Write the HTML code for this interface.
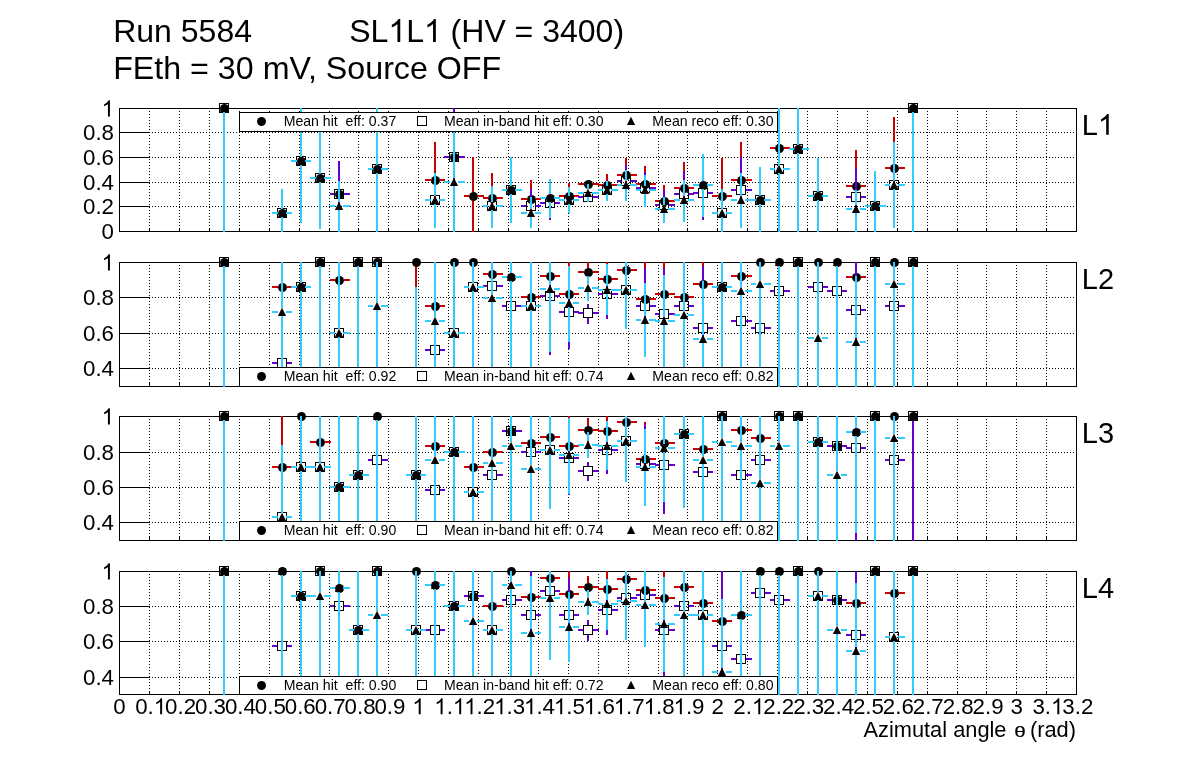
<!DOCTYPE html>
<html><head><meta charset="utf-8"><title>Efficiency</title>
<style>html,body{margin:0;padding:0;background:#fff}svg{display:block}</style>
</head><body>
<svg width="1196" height="772" viewBox="0 0 1196 772" font-family="Liberation Sans, sans-serif" fill="#000" style="will-change:transform">
<rect width="1196" height="772" fill="#fff"/>
<text x="113.2" y="42" font-size="32">Run 5584</text>
<text x="349.2" y="42" font-size="32" xml:space="preserve">SL</text>
<path transform="translate(388.34,42) scale(0.015625,-0.015625)" d="M763 0h-180v1147q-65 -62 -170.5 -124t-189.5 -93v174q151 71 264 172t160 196h116v-1472z"/>
<text x="406.14" y="42" font-size="32" xml:space="preserve">L</text>
<path transform="translate(423.93,42) scale(0.015625,-0.015625)" d="M763 0h-180v1147q-65 -62 -170.5 -124t-189.5 -93v174q151 71 264 172t160 196h116v-1472z"/>
<text x="441.73" y="42" font-size="32" xml:space="preserve"> (HV = 3400)</text>
<text x="113.2" y="78.8" font-size="32" textLength="388" lengthAdjust="spacingAndGlyphs">FEth = 30 mV, Source OFF</text>
<g shape-rendering="crispEdges">
<line x1="149.5" y1="110.5" x2="149.5" y2="227.5" stroke="#000" stroke-width="1" stroke-dasharray="1,2"/>
<line x1="149.5" y1="227.5" x2="149.5" y2="231.5" stroke="#000" stroke-width="1"/>
<line x1="179.5" y1="110.5" x2="179.5" y2="227.5" stroke="#000" stroke-width="1" stroke-dasharray="1,2"/>
<line x1="179.5" y1="227.5" x2="179.5" y2="231.5" stroke="#000" stroke-width="1"/>
<line x1="209.5" y1="110.5" x2="209.5" y2="227.5" stroke="#000" stroke-width="1" stroke-dasharray="1,2"/>
<line x1="209.5" y1="227.5" x2="209.5" y2="231.5" stroke="#000" stroke-width="1"/>
<line x1="239.5" y1="110.5" x2="239.5" y2="227.5" stroke="#000" stroke-width="1" stroke-dasharray="1,2"/>
<line x1="239.5" y1="227.5" x2="239.5" y2="231.5" stroke="#000" stroke-width="1"/>
<line x1="269.5" y1="110.5" x2="269.5" y2="227.5" stroke="#000" stroke-width="1" stroke-dasharray="1,2"/>
<line x1="269.5" y1="227.5" x2="269.5" y2="231.5" stroke="#000" stroke-width="1"/>
<line x1="299.5" y1="110.5" x2="299.5" y2="227.5" stroke="#000" stroke-width="1" stroke-dasharray="1,2"/>
<line x1="299.5" y1="227.5" x2="299.5" y2="231.5" stroke="#000" stroke-width="1"/>
<line x1="329.5" y1="110.5" x2="329.5" y2="227.5" stroke="#000" stroke-width="1" stroke-dasharray="1,2"/>
<line x1="329.5" y1="227.5" x2="329.5" y2="231.5" stroke="#000" stroke-width="1"/>
<line x1="358.5" y1="110.5" x2="358.5" y2="227.5" stroke="#000" stroke-width="1" stroke-dasharray="1,2"/>
<line x1="358.5" y1="227.5" x2="358.5" y2="231.5" stroke="#000" stroke-width="1"/>
<line x1="388.5" y1="110.5" x2="388.5" y2="227.5" stroke="#000" stroke-width="1" stroke-dasharray="1,2"/>
<line x1="388.5" y1="227.5" x2="388.5" y2="231.5" stroke="#000" stroke-width="1"/>
<line x1="418.5" y1="110.5" x2="418.5" y2="227.5" stroke="#000" stroke-width="1" stroke-dasharray="1,2"/>
<line x1="418.5" y1="227.5" x2="418.5" y2="231.5" stroke="#000" stroke-width="1"/>
<line x1="448.5" y1="110.5" x2="448.5" y2="227.5" stroke="#000" stroke-width="1" stroke-dasharray="1,2"/>
<line x1="448.5" y1="227.5" x2="448.5" y2="231.5" stroke="#000" stroke-width="1"/>
<line x1="478.5" y1="110.5" x2="478.5" y2="227.5" stroke="#000" stroke-width="1" stroke-dasharray="1,2"/>
<line x1="478.5" y1="227.5" x2="478.5" y2="231.5" stroke="#000" stroke-width="1"/>
<line x1="508.5" y1="110.5" x2="508.5" y2="227.5" stroke="#000" stroke-width="1" stroke-dasharray="1,2"/>
<line x1="508.5" y1="227.5" x2="508.5" y2="231.5" stroke="#000" stroke-width="1"/>
<line x1="538.5" y1="110.5" x2="538.5" y2="227.5" stroke="#000" stroke-width="1" stroke-dasharray="1,2"/>
<line x1="538.5" y1="227.5" x2="538.5" y2="231.5" stroke="#000" stroke-width="1"/>
<line x1="568.5" y1="110.5" x2="568.5" y2="227.5" stroke="#000" stroke-width="1" stroke-dasharray="1,2"/>
<line x1="568.5" y1="227.5" x2="568.5" y2="231.5" stroke="#000" stroke-width="1"/>
<line x1="598.5" y1="110.5" x2="598.5" y2="227.5" stroke="#000" stroke-width="1" stroke-dasharray="1,2"/>
<line x1="598.5" y1="227.5" x2="598.5" y2="231.5" stroke="#000" stroke-width="1"/>
<line x1="628.5" y1="110.5" x2="628.5" y2="227.5" stroke="#000" stroke-width="1" stroke-dasharray="1,2"/>
<line x1="628.5" y1="227.5" x2="628.5" y2="231.5" stroke="#000" stroke-width="1"/>
<line x1="658.5" y1="110.5" x2="658.5" y2="227.5" stroke="#000" stroke-width="1" stroke-dasharray="1,2"/>
<line x1="658.5" y1="227.5" x2="658.5" y2="231.5" stroke="#000" stroke-width="1"/>
<line x1="687.5" y1="110.5" x2="687.5" y2="227.5" stroke="#000" stroke-width="1" stroke-dasharray="1,2"/>
<line x1="687.5" y1="227.5" x2="687.5" y2="231.5" stroke="#000" stroke-width="1"/>
<line x1="717.5" y1="110.5" x2="717.5" y2="227.5" stroke="#000" stroke-width="1" stroke-dasharray="1,2"/>
<line x1="717.5" y1="227.5" x2="717.5" y2="231.5" stroke="#000" stroke-width="1"/>
<line x1="747.5" y1="110.5" x2="747.5" y2="227.5" stroke="#000" stroke-width="1" stroke-dasharray="1,2"/>
<line x1="747.5" y1="227.5" x2="747.5" y2="231.5" stroke="#000" stroke-width="1"/>
<line x1="777.5" y1="110.5" x2="777.5" y2="227.5" stroke="#000" stroke-width="1" stroke-dasharray="1,2"/>
<line x1="777.5" y1="227.5" x2="777.5" y2="231.5" stroke="#000" stroke-width="1"/>
<line x1="807.5" y1="110.5" x2="807.5" y2="227.5" stroke="#000" stroke-width="1" stroke-dasharray="1,2"/>
<line x1="807.5" y1="227.5" x2="807.5" y2="231.5" stroke="#000" stroke-width="1"/>
<line x1="837.5" y1="110.5" x2="837.5" y2="227.5" stroke="#000" stroke-width="1" stroke-dasharray="1,2"/>
<line x1="837.5" y1="227.5" x2="837.5" y2="231.5" stroke="#000" stroke-width="1"/>
<line x1="867.5" y1="110.5" x2="867.5" y2="227.5" stroke="#000" stroke-width="1" stroke-dasharray="1,2"/>
<line x1="867.5" y1="227.5" x2="867.5" y2="231.5" stroke="#000" stroke-width="1"/>
<line x1="897.5" y1="110.5" x2="897.5" y2="227.5" stroke="#000" stroke-width="1" stroke-dasharray="1,2"/>
<line x1="897.5" y1="227.5" x2="897.5" y2="231.5" stroke="#000" stroke-width="1"/>
<line x1="927.5" y1="110.5" x2="927.5" y2="227.5" stroke="#000" stroke-width="1" stroke-dasharray="1,2"/>
<line x1="927.5" y1="227.5" x2="927.5" y2="231.5" stroke="#000" stroke-width="1"/>
<line x1="957.5" y1="110.5" x2="957.5" y2="227.5" stroke="#000" stroke-width="1" stroke-dasharray="1,2"/>
<line x1="957.5" y1="227.5" x2="957.5" y2="231.5" stroke="#000" stroke-width="1"/>
<line x1="986.5" y1="110.5" x2="986.5" y2="227.5" stroke="#000" stroke-width="1" stroke-dasharray="1,2"/>
<line x1="986.5" y1="227.5" x2="986.5" y2="231.5" stroke="#000" stroke-width="1"/>
<line x1="1016.5" y1="110.5" x2="1016.5" y2="227.5" stroke="#000" stroke-width="1" stroke-dasharray="1,2"/>
<line x1="1016.5" y1="227.5" x2="1016.5" y2="231.5" stroke="#000" stroke-width="1"/>
<line x1="1046.5" y1="110.5" x2="1046.5" y2="227.5" stroke="#000" stroke-width="1" stroke-dasharray="1,2"/>
<line x1="1046.5" y1="227.5" x2="1046.5" y2="231.5" stroke="#000" stroke-width="1"/>
<line x1="151.5" y1="132.5" x2="1075.5" y2="132.5" stroke="#000" stroke-width="1" stroke-dasharray="1,2"/>
<line x1="119.5" y1="132.5" x2="149.5" y2="132.5" stroke="#000" stroke-width="1"/>
<line x1="151.5" y1="157.5" x2="1075.5" y2="157.5" stroke="#000" stroke-width="1" stroke-dasharray="1,2"/>
<line x1="119.5" y1="157.5" x2="149.5" y2="157.5" stroke="#000" stroke-width="1"/>
<line x1="151.5" y1="182.5" x2="1075.5" y2="182.5" stroke="#000" stroke-width="1" stroke-dasharray="1,2"/>
<line x1="119.5" y1="182.5" x2="149.5" y2="182.5" stroke="#000" stroke-width="1"/>
<line x1="151.5" y1="206.5" x2="1075.5" y2="206.5" stroke="#000" stroke-width="1" stroke-dasharray="1,2"/>
<line x1="119.5" y1="206.5" x2="149.5" y2="206.5" stroke="#000" stroke-width="1"/>
<rect x="119.5" y="108.5" width="957.0" height="123.0" fill="none" stroke="#000" stroke-width="1"/>
</g>
<path transform="translate(101.6,116.4) scale(0.010889,-0.010889)" d="M763 0h-180v1147q-65 -62 -170.5 -124t-189.5 -93v174q151 71 264 172t160 196h116v-1472z"/>
<text x="83" y="140.4" font-size="22.3" xml:space="preserve">0.8</text>
<text x="83" y="165.4" font-size="22.3" xml:space="preserve">0.6</text>
<text x="83" y="190.4" font-size="22.3" xml:space="preserve">0.4</text>
<text x="83" y="214.4" font-size="22.3" xml:space="preserve">0.2</text>
<text x="101.6" y="239.4" font-size="22.3" xml:space="preserve">0</text>
<clipPath id="clip0"><rect x="119.5" y="108.0" width="957.0" height="124.0"/></clipPath>
<g clip-path="url(#clip0)" shape-rendering="crispEdges">
<line x1="272" y1="213" x2="278" y2="213" stroke="#cc0000" stroke-width="2.0"/>
<line x1="287" y1="213" x2="292" y2="213" stroke="#cc0000" stroke-width="2.0"/>
<line x1="291" y1="161" x2="297" y2="161" stroke="#cc0000" stroke-width="2.0"/>
<line x1="306" y1="161" x2="311" y2="161" stroke="#cc0000" stroke-width="2.0"/>
<line x1="310" y1="178" x2="316" y2="178" stroke="#cc0000" stroke-width="2.0"/>
<line x1="325" y1="178" x2="331" y2="178" stroke="#cc0000" stroke-width="2.0"/>
<line x1="330" y1="194" x2="335" y2="194" stroke="#cc0000" stroke-width="2.0"/>
<line x1="344" y1="194" x2="350" y2="194" stroke="#cc0000" stroke-width="2.0"/>
<line x1="368" y1="169" x2="373" y2="169" stroke="#cc0000" stroke-width="2.0"/>
<line x1="382" y1="169" x2="388" y2="169" stroke="#cc0000" stroke-width="2.0"/>
<line x1="425" y1="180" x2="431" y2="180" stroke="#cc0000" stroke-width="2.0"/>
<line x1="440" y1="180" x2="445" y2="180" stroke="#cc0000" stroke-width="2.0"/>
<line x1="435" y1="142.3" x2="435" y2="176" stroke="#cc0000" stroke-width="2.0"/>
<line x1="435" y1="185" x2="435" y2="217" stroke="#cc0000" stroke-width="2.0"/>
<line x1="444" y1="157" x2="450" y2="157" stroke="#cc0000" stroke-width="2.0"/>
<line x1="459" y1="157" x2="465" y2="157" stroke="#cc0000" stroke-width="2.0"/>
<line x1="464" y1="196" x2="469" y2="196" stroke="#cc0000" stroke-width="2.0"/>
<line x1="478" y1="196" x2="484" y2="196" stroke="#cc0000" stroke-width="2.0"/>
<line x1="473" y1="157.3" x2="473" y2="192" stroke="#cc0000" stroke-width="2.0"/>
<line x1="473" y1="201" x2="473" y2="232.5" stroke="#cc0000" stroke-width="2.0"/>
<line x1="483" y1="198" x2="488" y2="198" stroke="#cc0000" stroke-width="2.0"/>
<line x1="497" y1="198" x2="503" y2="198" stroke="#cc0000" stroke-width="2.0"/>
<line x1="492" y1="173.2" x2="492" y2="194" stroke="#cc0000" stroke-width="2.0"/>
<line x1="492" y1="203" x2="492" y2="222" stroke="#cc0000" stroke-width="2.0"/>
<line x1="502" y1="190" x2="507" y2="190" stroke="#cc0000" stroke-width="2.0"/>
<line x1="516" y1="190" x2="522" y2="190" stroke="#cc0000" stroke-width="2.0"/>
<line x1="521" y1="199" x2="527" y2="199" stroke="#cc0000" stroke-width="2.0"/>
<line x1="536" y1="199" x2="541" y2="199" stroke="#cc0000" stroke-width="2.0"/>
<line x1="531" y1="179.9" x2="531" y2="195" stroke="#cc0000" stroke-width="2.0"/>
<line x1="531" y1="204" x2="531" y2="219" stroke="#cc0000" stroke-width="2.0"/>
<line x1="540" y1="198" x2="546" y2="198" stroke="#cc0000" stroke-width="2.0"/>
<line x1="555" y1="198" x2="560" y2="198" stroke="#cc0000" stroke-width="2.0"/>
<line x1="559" y1="196" x2="565" y2="196" stroke="#cc0000" stroke-width="2.0"/>
<line x1="574" y1="196" x2="579" y2="196" stroke="#cc0000" stroke-width="2.0"/>
<line x1="569" y1="183.3" x2="569" y2="192" stroke="#cc0000" stroke-width="2.0"/>
<line x1="569" y1="201" x2="569" y2="208" stroke="#cc0000" stroke-width="2.0"/>
<line x1="578" y1="184" x2="584" y2="184" stroke="#cc0000" stroke-width="2.0"/>
<line x1="593" y1="184" x2="599" y2="184" stroke="#cc0000" stroke-width="2.0"/>
<line x1="598" y1="185" x2="603" y2="185" stroke="#cc0000" stroke-width="2.0"/>
<line x1="612" y1="185" x2="618" y2="185" stroke="#cc0000" stroke-width="2.0"/>
<line x1="607" y1="174.1" x2="607" y2="181" stroke="#cc0000" stroke-width="2.0"/>
<line x1="607" y1="190" x2="607" y2="195" stroke="#cc0000" stroke-width="2.0"/>
<line x1="617" y1="175" x2="622" y2="175" stroke="#cc0000" stroke-width="2.0"/>
<line x1="631" y1="175" x2="637" y2="175" stroke="#cc0000" stroke-width="2.0"/>
<line x1="626" y1="157.8" x2="626" y2="171" stroke="#cc0000" stroke-width="2.0"/>
<line x1="626" y1="180" x2="626" y2="192" stroke="#cc0000" stroke-width="2.0"/>
<line x1="636" y1="184" x2="641" y2="184" stroke="#cc0000" stroke-width="2.0"/>
<line x1="650" y1="184" x2="656" y2="184" stroke="#cc0000" stroke-width="2.0"/>
<line x1="645" y1="166.2" x2="645" y2="180" stroke="#cc0000" stroke-width="2.0"/>
<line x1="645" y1="189" x2="645" y2="201" stroke="#cc0000" stroke-width="2.0"/>
<line x1="655" y1="201" x2="660" y2="201" stroke="#cc0000" stroke-width="2.0"/>
<line x1="669" y1="201" x2="675" y2="201" stroke="#cc0000" stroke-width="2.0"/>
<line x1="664" y1="184.9" x2="664" y2="197" stroke="#cc0000" stroke-width="2.0"/>
<line x1="664" y1="206" x2="664" y2="217" stroke="#cc0000" stroke-width="2.0"/>
<line x1="674" y1="188" x2="680" y2="188" stroke="#cc0000" stroke-width="2.0"/>
<line x1="689" y1="188" x2="694" y2="188" stroke="#cc0000" stroke-width="2.0"/>
<line x1="684" y1="161.9" x2="684" y2="184" stroke="#cc0000" stroke-width="2.0"/>
<line x1="684" y1="193" x2="684" y2="214" stroke="#cc0000" stroke-width="2.0"/>
<line x1="693" y1="185" x2="699" y2="185" stroke="#cc0000" stroke-width="2.0"/>
<line x1="708" y1="185" x2="713" y2="185" stroke="#cc0000" stroke-width="2.0"/>
<line x1="712" y1="196" x2="718" y2="196" stroke="#cc0000" stroke-width="2.0"/>
<line x1="727" y1="196" x2="732" y2="196" stroke="#cc0000" stroke-width="2.0"/>
<line x1="722" y1="157.8" x2="722" y2="192" stroke="#cc0000" stroke-width="2.0"/>
<line x1="722" y1="201" x2="722" y2="207" stroke="#cc0000" stroke-width="2.0"/>
<line x1="731" y1="180" x2="737" y2="180" stroke="#cc0000" stroke-width="2.0"/>
<line x1="746" y1="180" x2="752" y2="180" stroke="#cc0000" stroke-width="2.0"/>
<line x1="741" y1="142.3" x2="741" y2="176" stroke="#cc0000" stroke-width="2.0"/>
<line x1="741" y1="185" x2="741" y2="217" stroke="#cc0000" stroke-width="2.0"/>
<line x1="751" y1="200" x2="756" y2="200" stroke="#cc0000" stroke-width="2.0"/>
<line x1="765" y1="200" x2="771" y2="200" stroke="#cc0000" stroke-width="2.0"/>
<line x1="770" y1="148" x2="775" y2="148" stroke="#cc0000" stroke-width="2.0"/>
<line x1="784" y1="148" x2="790" y2="148" stroke="#cc0000" stroke-width="2.0"/>
<line x1="789" y1="149" x2="794" y2="149" stroke="#cc0000" stroke-width="2.0"/>
<line x1="803" y1="149" x2="809" y2="149" stroke="#cc0000" stroke-width="2.0"/>
<line x1="808" y1="196" x2="814" y2="196" stroke="#cc0000" stroke-width="2.0"/>
<line x1="823" y1="196" x2="828" y2="196" stroke="#cc0000" stroke-width="2.0"/>
<line x1="846" y1="186" x2="852" y2="186" stroke="#cc0000" stroke-width="2.0"/>
<line x1="861" y1="186" x2="866" y2="186" stroke="#cc0000" stroke-width="2.0"/>
<line x1="856" y1="150.2" x2="856" y2="182" stroke="#cc0000" stroke-width="2.0"/>
<line x1="856" y1="191" x2="856" y2="221" stroke="#cc0000" stroke-width="2.0"/>
<line x1="865" y1="206" x2="871" y2="206" stroke="#cc0000" stroke-width="2.0"/>
<line x1="880" y1="206" x2="886" y2="206" stroke="#cc0000" stroke-width="2.0"/>
<line x1="885" y1="168" x2="890" y2="168" stroke="#cc0000" stroke-width="2.0"/>
<line x1="899" y1="168" x2="905" y2="168" stroke="#cc0000" stroke-width="2.0"/>
<line x1="894" y1="117.2" x2="894" y2="164" stroke="#cc0000" stroke-width="2.0"/>
<line x1="894" y1="173" x2="894" y2="220" stroke="#cc0000" stroke-width="2.0"/>
</g>
<circle cx="224.5" cy="108.5" r="4.45" fill="#000"/>
<circle cx="282.5" cy="213.5" r="4.45" fill="#000"/>
<circle cx="301.5" cy="161.5" r="4.45" fill="#000"/>
<circle cx="320.5" cy="178.5" r="4.45" fill="#000"/>
<circle cx="339.5" cy="194.5" r="4.45" fill="#000"/>
<circle cx="377.5" cy="169.5" r="4.45" fill="#000"/>
<circle cx="435.5" cy="180.5" r="4.45" fill="#000"/>
<circle cx="454.5" cy="157.5" r="4.45" fill="#000"/>
<circle cx="473.5" cy="196.5" r="4.45" fill="#000"/>
<circle cx="492.5" cy="198.5" r="4.45" fill="#000"/>
<circle cx="511.5" cy="190.5" r="4.45" fill="#000"/>
<circle cx="531.5" cy="199.5" r="4.45" fill="#000"/>
<circle cx="550.5" cy="198.5" r="4.45" fill="#000"/>
<circle cx="569.5" cy="196.5" r="4.45" fill="#000"/>
<circle cx="588.5" cy="184.5" r="4.45" fill="#000"/>
<circle cx="607.5" cy="185.5" r="4.45" fill="#000"/>
<circle cx="626.5" cy="175.5" r="4.45" fill="#000"/>
<circle cx="645.5" cy="184.5" r="4.45" fill="#000"/>
<circle cx="664.5" cy="201.5" r="4.45" fill="#000"/>
<circle cx="684.5" cy="188.5" r="4.45" fill="#000"/>
<circle cx="703.5" cy="185.5" r="4.45" fill="#000"/>
<circle cx="722.5" cy="196.5" r="4.45" fill="#000"/>
<circle cx="741.5" cy="180.5" r="4.45" fill="#000"/>
<circle cx="760.5" cy="200.5" r="4.45" fill="#000"/>
<circle cx="779.5" cy="148.5" r="4.45" fill="#000"/>
<circle cx="798.5" cy="149.5" r="4.45" fill="#000"/>
<circle cx="818.5" cy="196.5" r="4.45" fill="#000"/>
<circle cx="856.5" cy="186.5" r="4.45" fill="#000"/>
<circle cx="875.5" cy="206.5" r="4.45" fill="#000"/>
<circle cx="894.5" cy="168.5" r="4.45" fill="#000"/>
<circle cx="913.5" cy="108.5" r="4.45" fill="#000"/>
<g clip-path="url(#clip0)" shape-rendering="crispEdges">
<line x1="272" y1="213" x2="277" y2="213" stroke="#6600cc" stroke-width="2.0"/>
<line x1="287" y1="213" x2="292" y2="213" stroke="#6600cc" stroke-width="2.0"/>
<line x1="291" y1="161" x2="296" y2="161" stroke="#6600cc" stroke-width="2.0"/>
<line x1="306" y1="161" x2="311" y2="161" stroke="#6600cc" stroke-width="2.0"/>
<line x1="310" y1="178" x2="315" y2="178" stroke="#6600cc" stroke-width="2.0"/>
<line x1="325" y1="178" x2="331" y2="178" stroke="#6600cc" stroke-width="2.0"/>
<line x1="330" y1="194" x2="334" y2="194" stroke="#6600cc" stroke-width="2.0"/>
<line x1="344" y1="194" x2="350" y2="194" stroke="#6600cc" stroke-width="2.0"/>
<line x1="339" y1="161" x2="339" y2="189" stroke="#6600cc" stroke-width="2.0"/>
<line x1="339" y1="199" x2="339" y2="227" stroke="#6600cc" stroke-width="2.0"/>
<line x1="368" y1="169" x2="372" y2="169" stroke="#6600cc" stroke-width="2.0"/>
<line x1="382" y1="169" x2="388" y2="169" stroke="#6600cc" stroke-width="2.0"/>
<line x1="425" y1="200" x2="430" y2="200" stroke="#6600cc" stroke-width="2.0"/>
<line x1="440" y1="200" x2="445" y2="200" stroke="#6600cc" stroke-width="2.0"/>
<line x1="444" y1="157" x2="449" y2="157" stroke="#6600cc" stroke-width="2.0"/>
<line x1="459" y1="157" x2="465" y2="157" stroke="#6600cc" stroke-width="2.0"/>
<line x1="454" y1="108" x2="454" y2="152" stroke="#6600cc" stroke-width="2.0"/>
<line x1="454" y1="162" x2="454" y2="205" stroke="#6600cc" stroke-width="2.0"/>
<line x1="483" y1="206" x2="487" y2="206" stroke="#6600cc" stroke-width="2.0"/>
<line x1="497" y1="206" x2="503" y2="206" stroke="#6600cc" stroke-width="2.0"/>
<line x1="502" y1="190" x2="506" y2="190" stroke="#6600cc" stroke-width="2.0"/>
<line x1="516" y1="190" x2="522" y2="190" stroke="#6600cc" stroke-width="2.0"/>
<line x1="521" y1="206" x2="526" y2="206" stroke="#6600cc" stroke-width="2.0"/>
<line x1="536" y1="206" x2="541" y2="206" stroke="#6600cc" stroke-width="2.0"/>
<line x1="531" y1="189" x2="531" y2="201" stroke="#6600cc" stroke-width="2.0"/>
<line x1="531" y1="211" x2="531" y2="222" stroke="#6600cc" stroke-width="2.0"/>
<line x1="540" y1="203" x2="545" y2="203" stroke="#6600cc" stroke-width="2.0"/>
<line x1="555" y1="203" x2="560" y2="203" stroke="#6600cc" stroke-width="2.0"/>
<line x1="550" y1="185" x2="550" y2="198" stroke="#6600cc" stroke-width="2.0"/>
<line x1="550" y1="208" x2="550" y2="220" stroke="#6600cc" stroke-width="2.0"/>
<line x1="559" y1="200" x2="564" y2="200" stroke="#6600cc" stroke-width="2.0"/>
<line x1="574" y1="200" x2="579" y2="200" stroke="#6600cc" stroke-width="2.0"/>
<line x1="578" y1="197" x2="583" y2="197" stroke="#6600cc" stroke-width="2.0"/>
<line x1="593" y1="197" x2="599" y2="197" stroke="#6600cc" stroke-width="2.0"/>
<line x1="598" y1="190" x2="602" y2="190" stroke="#6600cc" stroke-width="2.0"/>
<line x1="612" y1="190" x2="618" y2="190" stroke="#6600cc" stroke-width="2.0"/>
<line x1="617" y1="181" x2="621" y2="181" stroke="#6600cc" stroke-width="2.0"/>
<line x1="631" y1="181" x2="637" y2="181" stroke="#6600cc" stroke-width="2.0"/>
<line x1="626" y1="164.9" x2="626" y2="176" stroke="#6600cc" stroke-width="2.0"/>
<line x1="626" y1="186" x2="626" y2="197" stroke="#6600cc" stroke-width="2.0"/>
<line x1="636" y1="188" x2="640" y2="188" stroke="#6600cc" stroke-width="2.0"/>
<line x1="650" y1="188" x2="656" y2="188" stroke="#6600cc" stroke-width="2.0"/>
<line x1="645" y1="171.6" x2="645" y2="183" stroke="#6600cc" stroke-width="2.0"/>
<line x1="645" y1="193" x2="645" y2="204" stroke="#6600cc" stroke-width="2.0"/>
<line x1="655" y1="205" x2="659" y2="205" stroke="#6600cc" stroke-width="2.0"/>
<line x1="669" y1="205" x2="675" y2="205" stroke="#6600cc" stroke-width="2.0"/>
<line x1="664" y1="190" x2="664" y2="200" stroke="#6600cc" stroke-width="2.0"/>
<line x1="664" y1="210" x2="664" y2="219" stroke="#6600cc" stroke-width="2.0"/>
<line x1="674" y1="194" x2="679" y2="194" stroke="#6600cc" stroke-width="2.0"/>
<line x1="689" y1="194" x2="694" y2="194" stroke="#6600cc" stroke-width="2.0"/>
<line x1="684" y1="170.7" x2="684" y2="189" stroke="#6600cc" stroke-width="2.0"/>
<line x1="684" y1="199" x2="684" y2="217" stroke="#6600cc" stroke-width="2.0"/>
<line x1="693" y1="193" x2="698" y2="193" stroke="#6600cc" stroke-width="2.0"/>
<line x1="708" y1="193" x2="713" y2="193" stroke="#6600cc" stroke-width="2.0"/>
<line x1="703" y1="166" x2="703" y2="188" stroke="#6600cc" stroke-width="2.0"/>
<line x1="703" y1="198" x2="703" y2="219.6" stroke="#6600cc" stroke-width="2.0"/>
<line x1="712" y1="213" x2="717" y2="213" stroke="#6600cc" stroke-width="2.0"/>
<line x1="727" y1="213" x2="732" y2="213" stroke="#6600cc" stroke-width="2.0"/>
<line x1="731" y1="190" x2="736" y2="190" stroke="#6600cc" stroke-width="2.0"/>
<line x1="746" y1="190" x2="752" y2="190" stroke="#6600cc" stroke-width="2.0"/>
<line x1="741" y1="156.8" x2="741" y2="185" stroke="#6600cc" stroke-width="2.0"/>
<line x1="741" y1="195" x2="741" y2="222" stroke="#6600cc" stroke-width="2.0"/>
<line x1="751" y1="200" x2="755" y2="200" stroke="#6600cc" stroke-width="2.0"/>
<line x1="765" y1="200" x2="771" y2="200" stroke="#6600cc" stroke-width="2.0"/>
<line x1="770" y1="169" x2="774" y2="169" stroke="#6600cc" stroke-width="2.0"/>
<line x1="784" y1="169" x2="790" y2="169" stroke="#6600cc" stroke-width="2.0"/>
<line x1="789" y1="149" x2="793" y2="149" stroke="#6600cc" stroke-width="2.0"/>
<line x1="803" y1="149" x2="809" y2="149" stroke="#6600cc" stroke-width="2.0"/>
<line x1="808" y1="196" x2="813" y2="196" stroke="#6600cc" stroke-width="2.0"/>
<line x1="823" y1="196" x2="828" y2="196" stroke="#6600cc" stroke-width="2.0"/>
<line x1="846" y1="197" x2="851" y2="197" stroke="#6600cc" stroke-width="2.0"/>
<line x1="861" y1="197" x2="866" y2="197" stroke="#6600cc" stroke-width="2.0"/>
<line x1="856" y1="168.2" x2="856" y2="192" stroke="#6600cc" stroke-width="2.0"/>
<line x1="856" y1="202" x2="856" y2="226" stroke="#6600cc" stroke-width="2.0"/>
<line x1="865" y1="206" x2="870" y2="206" stroke="#6600cc" stroke-width="2.0"/>
<line x1="880" y1="206" x2="886" y2="206" stroke="#6600cc" stroke-width="2.0"/>
<line x1="885" y1="185" x2="889" y2="185" stroke="#6600cc" stroke-width="2.0"/>
<line x1="899" y1="185" x2="905" y2="185" stroke="#6600cc" stroke-width="2.0"/>
</g>
<rect x="219.5" y="103.5" width="9" height="9" fill="none" stroke="#000" stroke-width="1"/>
<rect x="277.5" y="208.5" width="9" height="9" fill="none" stroke="#000" stroke-width="1"/>
<rect x="296.5" y="156.5" width="9" height="9" fill="none" stroke="#000" stroke-width="1"/>
<rect x="315.5" y="173.5" width="9" height="9" fill="none" stroke="#000" stroke-width="1"/>
<rect x="334.5" y="189.5" width="9" height="9" fill="none" stroke="#000" stroke-width="1"/>
<rect x="372.5" y="164.5" width="9" height="9" fill="none" stroke="#000" stroke-width="1"/>
<rect x="430.5" y="195.5" width="9" height="9" fill="none" stroke="#000" stroke-width="1"/>
<rect x="449.5" y="152.5" width="9" height="9" fill="none" stroke="#000" stroke-width="1"/>
<rect x="487.5" y="201.5" width="9" height="9" fill="none" stroke="#000" stroke-width="1"/>
<rect x="506.5" y="185.5" width="9" height="9" fill="none" stroke="#000" stroke-width="1"/>
<rect x="526.5" y="201.5" width="9" height="9" fill="none" stroke="#000" stroke-width="1"/>
<rect x="545.5" y="198.5" width="9" height="9" fill="none" stroke="#000" stroke-width="1"/>
<rect x="564.5" y="195.5" width="9" height="9" fill="none" stroke="#000" stroke-width="1"/>
<rect x="583.5" y="192.5" width="9" height="9" fill="none" stroke="#000" stroke-width="1"/>
<rect x="602.5" y="185.5" width="9" height="9" fill="none" stroke="#000" stroke-width="1"/>
<rect x="621.5" y="176.5" width="9" height="9" fill="none" stroke="#000" stroke-width="1"/>
<rect x="640.5" y="183.5" width="9" height="9" fill="none" stroke="#000" stroke-width="1"/>
<rect x="659.5" y="200.5" width="9" height="9" fill="none" stroke="#000" stroke-width="1"/>
<rect x="679.5" y="189.5" width="9" height="9" fill="none" stroke="#000" stroke-width="1"/>
<rect x="698.5" y="188.5" width="9" height="9" fill="none" stroke="#000" stroke-width="1"/>
<rect x="717.5" y="208.5" width="9" height="9" fill="none" stroke="#000" stroke-width="1"/>
<rect x="736.5" y="185.5" width="9" height="9" fill="none" stroke="#000" stroke-width="1"/>
<rect x="755.5" y="195.5" width="9" height="9" fill="none" stroke="#000" stroke-width="1"/>
<rect x="774.5" y="164.5" width="9" height="9" fill="none" stroke="#000" stroke-width="1"/>
<rect x="793.5" y="144.5" width="9" height="9" fill="none" stroke="#000" stroke-width="1"/>
<rect x="813.5" y="191.5" width="9" height="9" fill="none" stroke="#000" stroke-width="1"/>
<rect x="851.5" y="192.5" width="9" height="9" fill="none" stroke="#000" stroke-width="1"/>
<rect x="870.5" y="201.5" width="9" height="9" fill="none" stroke="#000" stroke-width="1"/>
<rect x="889.5" y="180.5" width="9" height="9" fill="none" stroke="#000" stroke-width="1"/>
<rect x="908.5" y="103.5" width="9" height="9" fill="none" stroke="#000" stroke-width="1"/>
<g clip-path="url(#clip0)" shape-rendering="crispEdges">
<line x1="224" y1="112" x2="224" y2="232.5" stroke="#33ccff" stroke-width="2.0"/>
<line x1="272" y1="213" x2="278" y2="213" stroke="#33ccff" stroke-width="2.0"/>
<line x1="286" y1="213" x2="292" y2="213" stroke="#33ccff" stroke-width="2.0"/>
<line x1="282" y1="189.1" x2="282" y2="209" stroke="#33ccff" stroke-width="2.0"/>
<line x1="282" y1="217" x2="282" y2="232.5" stroke="#33ccff" stroke-width="2.0"/>
<line x1="291" y1="161" x2="297" y2="161" stroke="#33ccff" stroke-width="2.0"/>
<line x1="305" y1="161" x2="311" y2="161" stroke="#33ccff" stroke-width="2.0"/>
<line x1="301" y1="108" x2="301" y2="157" stroke="#33ccff" stroke-width="2.0"/>
<line x1="301" y1="165" x2="301" y2="222.6" stroke="#33ccff" stroke-width="2.0"/>
<line x1="310" y1="178" x2="316" y2="178" stroke="#33ccff" stroke-width="2.0"/>
<line x1="324" y1="178" x2="331" y2="178" stroke="#33ccff" stroke-width="2.0"/>
<line x1="320" y1="125" x2="320" y2="174" stroke="#33ccff" stroke-width="2.0"/>
<line x1="320" y1="182" x2="320" y2="229.3" stroke="#33ccff" stroke-width="2.0"/>
<line x1="330" y1="206" x2="335" y2="206" stroke="#33ccff" stroke-width="2.0"/>
<line x1="343" y1="206" x2="350" y2="206" stroke="#33ccff" stroke-width="2.0"/>
<line x1="339" y1="180.8" x2="339" y2="202" stroke="#33ccff" stroke-width="2.0"/>
<line x1="339" y1="210" x2="339" y2="232.5" stroke="#33ccff" stroke-width="2.0"/>
<line x1="368" y1="169" x2="373" y2="169" stroke="#33ccff" stroke-width="2.0"/>
<line x1="381" y1="169" x2="388" y2="169" stroke="#33ccff" stroke-width="2.0"/>
<line x1="377" y1="108" x2="377" y2="165" stroke="#33ccff" stroke-width="2.0"/>
<line x1="377" y1="173" x2="377" y2="232.5" stroke="#33ccff" stroke-width="2.0"/>
<line x1="425" y1="200" x2="431" y2="200" stroke="#33ccff" stroke-width="2.0"/>
<line x1="439" y1="200" x2="445" y2="200" stroke="#33ccff" stroke-width="2.0"/>
<line x1="435" y1="173.2" x2="435" y2="196" stroke="#33ccff" stroke-width="2.0"/>
<line x1="435" y1="204" x2="435" y2="227.6" stroke="#33ccff" stroke-width="2.0"/>
<line x1="444" y1="182" x2="450" y2="182" stroke="#33ccff" stroke-width="2.0"/>
<line x1="458" y1="182" x2="465" y2="182" stroke="#33ccff" stroke-width="2.0"/>
<line x1="454" y1="128" x2="454" y2="178" stroke="#33ccff" stroke-width="2.0"/>
<line x1="454" y1="186" x2="454" y2="232.5" stroke="#33ccff" stroke-width="2.0"/>
<line x1="483" y1="206" x2="488" y2="206" stroke="#33ccff" stroke-width="2.0"/>
<line x1="496" y1="206" x2="503" y2="206" stroke="#33ccff" stroke-width="2.0"/>
<line x1="492" y1="185.8" x2="492" y2="202" stroke="#33ccff" stroke-width="2.0"/>
<line x1="492" y1="210" x2="492" y2="227.6" stroke="#33ccff" stroke-width="2.0"/>
<line x1="502" y1="190" x2="507" y2="190" stroke="#33ccff" stroke-width="2.0"/>
<line x1="515" y1="190" x2="522" y2="190" stroke="#33ccff" stroke-width="2.0"/>
<line x1="511" y1="156.8" x2="511" y2="186" stroke="#33ccff" stroke-width="2.0"/>
<line x1="511" y1="194" x2="511" y2="222.6" stroke="#33ccff" stroke-width="2.0"/>
<line x1="521" y1="213" x2="527" y2="213" stroke="#33ccff" stroke-width="2.0"/>
<line x1="535" y1="213" x2="541" y2="213" stroke="#33ccff" stroke-width="2.0"/>
<line x1="531" y1="196.6" x2="531" y2="209" stroke="#33ccff" stroke-width="2.0"/>
<line x1="531" y1="217" x2="531" y2="227.6" stroke="#33ccff" stroke-width="2.0"/>
<line x1="540" y1="198" x2="546" y2="198" stroke="#33ccff" stroke-width="2.0"/>
<line x1="554" y1="198" x2="560" y2="198" stroke="#33ccff" stroke-width="2.0"/>
<line x1="550" y1="179.1" x2="550" y2="194" stroke="#33ccff" stroke-width="2.0"/>
<line x1="550" y1="202" x2="550" y2="217.5" stroke="#33ccff" stroke-width="2.0"/>
<line x1="559" y1="200" x2="565" y2="200" stroke="#33ccff" stroke-width="2.0"/>
<line x1="573" y1="200" x2="579" y2="200" stroke="#33ccff" stroke-width="2.0"/>
<line x1="569" y1="187.4" x2="569" y2="196" stroke="#33ccff" stroke-width="2.0"/>
<line x1="569" y1="204" x2="569" y2="212.5" stroke="#33ccff" stroke-width="2.0"/>
<line x1="578" y1="193" x2="584" y2="193" stroke="#33ccff" stroke-width="2.0"/>
<line x1="592" y1="193" x2="599" y2="193" stroke="#33ccff" stroke-width="2.0"/>
<line x1="588" y1="184" x2="588" y2="189" stroke="#33ccff" stroke-width="2.0"/>
<line x1="588" y1="197" x2="588" y2="201.7" stroke="#33ccff" stroke-width="2.0"/>
<line x1="598" y1="190" x2="603" y2="190" stroke="#33ccff" stroke-width="2.0"/>
<line x1="611" y1="190" x2="618" y2="190" stroke="#33ccff" stroke-width="2.0"/>
<line x1="607" y1="180.8" x2="607" y2="186" stroke="#33ccff" stroke-width="2.0"/>
<line x1="607" y1="194" x2="607" y2="200.8" stroke="#33ccff" stroke-width="2.0"/>
<line x1="617" y1="185" x2="622" y2="185" stroke="#33ccff" stroke-width="2.0"/>
<line x1="630" y1="185" x2="637" y2="185" stroke="#33ccff" stroke-width="2.0"/>
<line x1="626" y1="169.9" x2="626" y2="181" stroke="#33ccff" stroke-width="2.0"/>
<line x1="626" y1="189" x2="626" y2="200.8" stroke="#33ccff" stroke-width="2.0"/>
<line x1="636" y1="190" x2="641" y2="190" stroke="#33ccff" stroke-width="2.0"/>
<line x1="649" y1="190" x2="656" y2="190" stroke="#33ccff" stroke-width="2.0"/>
<line x1="645" y1="174.9" x2="645" y2="186" stroke="#33ccff" stroke-width="2.0"/>
<line x1="645" y1="194" x2="645" y2="206.7" stroke="#33ccff" stroke-width="2.0"/>
<line x1="655" y1="209" x2="660" y2="209" stroke="#33ccff" stroke-width="2.0"/>
<line x1="668" y1="209" x2="675" y2="209" stroke="#33ccff" stroke-width="2.0"/>
<line x1="664" y1="196.6" x2="664" y2="205" stroke="#33ccff" stroke-width="2.0"/>
<line x1="664" y1="213" x2="664" y2="222.6" stroke="#33ccff" stroke-width="2.0"/>
<line x1="674" y1="200" x2="680" y2="200" stroke="#33ccff" stroke-width="2.0"/>
<line x1="688" y1="200" x2="694" y2="200" stroke="#33ccff" stroke-width="2.0"/>
<line x1="684" y1="179.9" x2="684" y2="196" stroke="#33ccff" stroke-width="2.0"/>
<line x1="684" y1="204" x2="684" y2="221.7" stroke="#33ccff" stroke-width="2.0"/>
<line x1="693" y1="185" x2="699" y2="185" stroke="#33ccff" stroke-width="2.0"/>
<line x1="707" y1="185" x2="713" y2="185" stroke="#33ccff" stroke-width="2.0"/>
<line x1="703" y1="154" x2="703" y2="181" stroke="#33ccff" stroke-width="2.0"/>
<line x1="703" y1="189" x2="703" y2="216.7" stroke="#33ccff" stroke-width="2.0"/>
<line x1="712" y1="213" x2="718" y2="213" stroke="#33ccff" stroke-width="2.0"/>
<line x1="726" y1="213" x2="732" y2="213" stroke="#33ccff" stroke-width="2.0"/>
<line x1="722" y1="189.1" x2="722" y2="209" stroke="#33ccff" stroke-width="2.0"/>
<line x1="722" y1="217" x2="722" y2="232.5" stroke="#33ccff" stroke-width="2.0"/>
<line x1="731" y1="200" x2="737" y2="200" stroke="#33ccff" stroke-width="2.0"/>
<line x1="745" y1="200" x2="752" y2="200" stroke="#33ccff" stroke-width="2.0"/>
<line x1="741" y1="173.2" x2="741" y2="196" stroke="#33ccff" stroke-width="2.0"/>
<line x1="741" y1="204" x2="741" y2="227.6" stroke="#33ccff" stroke-width="2.0"/>
<line x1="751" y1="200" x2="756" y2="200" stroke="#33ccff" stroke-width="2.0"/>
<line x1="764" y1="200" x2="771" y2="200" stroke="#33ccff" stroke-width="2.0"/>
<line x1="760" y1="167" x2="760" y2="196" stroke="#33ccff" stroke-width="2.0"/>
<line x1="760" y1="204" x2="760" y2="232.5" stroke="#33ccff" stroke-width="2.0"/>
<line x1="770" y1="169" x2="775" y2="169" stroke="#33ccff" stroke-width="2.0"/>
<line x1="783" y1="169" x2="790" y2="169" stroke="#33ccff" stroke-width="2.0"/>
<line x1="779" y1="108" x2="779" y2="165" stroke="#33ccff" stroke-width="2.0"/>
<line x1="779" y1="173" x2="779" y2="232.5" stroke="#33ccff" stroke-width="2.0"/>
<line x1="789" y1="149" x2="794" y2="149" stroke="#33ccff" stroke-width="2.0"/>
<line x1="802" y1="149" x2="809" y2="149" stroke="#33ccff" stroke-width="2.0"/>
<line x1="798" y1="108" x2="798" y2="145" stroke="#33ccff" stroke-width="2.0"/>
<line x1="798" y1="153" x2="798" y2="232.5" stroke="#33ccff" stroke-width="2.0"/>
<line x1="808" y1="196" x2="814" y2="196" stroke="#33ccff" stroke-width="2.0"/>
<line x1="822" y1="196" x2="828" y2="196" stroke="#33ccff" stroke-width="2.0"/>
<line x1="818" y1="157.8" x2="818" y2="192" stroke="#33ccff" stroke-width="2.0"/>
<line x1="818" y1="200" x2="818" y2="232.5" stroke="#33ccff" stroke-width="2.0"/>
<line x1="846" y1="209" x2="852" y2="209" stroke="#33ccff" stroke-width="2.0"/>
<line x1="860" y1="209" x2="866" y2="209" stroke="#33ccff" stroke-width="2.0"/>
<line x1="856" y1="190" x2="856" y2="205" stroke="#33ccff" stroke-width="2.0"/>
<line x1="856" y1="213" x2="856" y2="232.5" stroke="#33ccff" stroke-width="2.0"/>
<line x1="865" y1="206" x2="871" y2="206" stroke="#33ccff" stroke-width="2.0"/>
<line x1="879" y1="206" x2="886" y2="206" stroke="#33ccff" stroke-width="2.0"/>
<line x1="875" y1="170.7" x2="875" y2="202" stroke="#33ccff" stroke-width="2.0"/>
<line x1="875" y1="210" x2="875" y2="232.5" stroke="#33ccff" stroke-width="2.0"/>
<line x1="885" y1="185" x2="890" y2="185" stroke="#33ccff" stroke-width="2.0"/>
<line x1="898" y1="185" x2="905" y2="185" stroke="#33ccff" stroke-width="2.0"/>
<line x1="894" y1="142.3" x2="894" y2="181" stroke="#33ccff" stroke-width="2.0"/>
<line x1="894" y1="189" x2="894" y2="228.4" stroke="#33ccff" stroke-width="2.0"/>
<line x1="913" y1="112" x2="913" y2="232.5" stroke="#33ccff" stroke-width="2.0"/>
</g>
<path d="M219.9 112L228.1 112L224 103.8Z" fill="#000"/>
<path d="M277.9 217L286.1 217L282 208.8Z" fill="#000"/>
<path d="M296.9 165L305.1 165L301 156.8Z" fill="#000"/>
<path d="M315.9 182L324.1 182L320 173.8Z" fill="#000"/>
<path d="M334.9 210L343.1 210L339 201.8Z" fill="#000"/>
<path d="M372.9 173L381.1 173L377 164.8Z" fill="#000"/>
<path d="M430.9 204L439.1 204L435 195.8Z" fill="#000"/>
<path d="M449.9 186L458.1 186L454 177.8Z" fill="#000"/>
<path d="M487.9 210L496.1 210L492 201.8Z" fill="#000"/>
<path d="M506.9 194L515.1 194L511 185.8Z" fill="#000"/>
<path d="M526.9 217L535.1 217L531 208.8Z" fill="#000"/>
<path d="M545.9 202L554.1 202L550 193.8Z" fill="#000"/>
<path d="M564.9 204L573.1 204L569 195.8Z" fill="#000"/>
<path d="M583.9 197L592.1 197L588 188.8Z" fill="#000"/>
<path d="M602.9 194L611.1 194L607 185.8Z" fill="#000"/>
<path d="M621.9 189L630.1 189L626 180.8Z" fill="#000"/>
<path d="M640.9 194L649.1 194L645 185.8Z" fill="#000"/>
<path d="M659.9 213L668.1 213L664 204.8Z" fill="#000"/>
<path d="M679.9 204L688.1 204L684 195.8Z" fill="#000"/>
<path d="M698.9 189L707.1 189L703 180.8Z" fill="#000"/>
<path d="M717.9 217L726.1 217L722 208.8Z" fill="#000"/>
<path d="M736.9 204L745.1 204L741 195.8Z" fill="#000"/>
<path d="M755.9 204L764.1 204L760 195.8Z" fill="#000"/>
<path d="M774.9 173L783.1 173L779 164.8Z" fill="#000"/>
<path d="M793.9 153L802.1 153L798 144.8Z" fill="#000"/>
<path d="M813.9 200L822.1 200L818 191.8Z" fill="#000"/>
<path d="M851.9 213L860.1 213L856 204.8Z" fill="#000"/>
<path d="M870.9 210L879.1 210L875 201.8Z" fill="#000"/>
<path d="M889.9 189L898.1 189L894 180.8Z" fill="#000"/>
<path d="M908.9 112L917.1 112L913 103.8Z" fill="#000"/>
<rect x="239.5" y="112.5" width="538" height="19.0" fill="#fff" stroke="#000" stroke-width="1" shape-rendering="crispEdges"/>
<circle cx="261.5" cy="121.5" r="4.45" fill="#000"/>
<text x="283.7" y="126" font-size="14.1" xml:space="preserve">Mean hit  eff: 0.37</text>
<rect x="417.5" y="116.5" width="9" height="9" fill="none" stroke="#000" stroke-width="1"/>
<text x="443.9" y="126" font-size="14.1">Mean in-band hit eff: 0.30</text>
<path d="M626.9 125L635.1 125L631 116.8Z" fill="#000"/>
<text x="652.3" y="126" font-size="14.1">Mean reco eff: 0.30</text>
<text x="1081.8" y="134.8" font-size="29" xml:space="preserve">L</text>
<path transform="translate(1097.93,134.8) scale(0.014160,-0.014160)" d="M763 0h-180v1147q-65 -62 -170.5 -124t-189.5 -93v174q151 71 264 172t160 196h116v-1472z"/>
<g shape-rendering="crispEdges">
<line x1="149.5" y1="264.5" x2="149.5" y2="382.5" stroke="#000" stroke-width="1" stroke-dasharray="1,2"/>
<line x1="149.5" y1="382.5" x2="149.5" y2="386.5" stroke="#000" stroke-width="1"/>
<line x1="179.5" y1="264.5" x2="179.5" y2="382.5" stroke="#000" stroke-width="1" stroke-dasharray="1,2"/>
<line x1="179.5" y1="382.5" x2="179.5" y2="386.5" stroke="#000" stroke-width="1"/>
<line x1="209.5" y1="264.5" x2="209.5" y2="382.5" stroke="#000" stroke-width="1" stroke-dasharray="1,2"/>
<line x1="209.5" y1="382.5" x2="209.5" y2="386.5" stroke="#000" stroke-width="1"/>
<line x1="239.5" y1="264.5" x2="239.5" y2="382.5" stroke="#000" stroke-width="1" stroke-dasharray="1,2"/>
<line x1="239.5" y1="382.5" x2="239.5" y2="386.5" stroke="#000" stroke-width="1"/>
<line x1="269.5" y1="264.5" x2="269.5" y2="382.5" stroke="#000" stroke-width="1" stroke-dasharray="1,2"/>
<line x1="269.5" y1="382.5" x2="269.5" y2="386.5" stroke="#000" stroke-width="1"/>
<line x1="299.5" y1="264.5" x2="299.5" y2="382.5" stroke="#000" stroke-width="1" stroke-dasharray="1,2"/>
<line x1="299.5" y1="382.5" x2="299.5" y2="386.5" stroke="#000" stroke-width="1"/>
<line x1="329.5" y1="264.5" x2="329.5" y2="382.5" stroke="#000" stroke-width="1" stroke-dasharray="1,2"/>
<line x1="329.5" y1="382.5" x2="329.5" y2="386.5" stroke="#000" stroke-width="1"/>
<line x1="358.5" y1="264.5" x2="358.5" y2="382.5" stroke="#000" stroke-width="1" stroke-dasharray="1,2"/>
<line x1="358.5" y1="382.5" x2="358.5" y2="386.5" stroke="#000" stroke-width="1"/>
<line x1="388.5" y1="264.5" x2="388.5" y2="382.5" stroke="#000" stroke-width="1" stroke-dasharray="1,2"/>
<line x1="388.5" y1="382.5" x2="388.5" y2="386.5" stroke="#000" stroke-width="1"/>
<line x1="418.5" y1="264.5" x2="418.5" y2="382.5" stroke="#000" stroke-width="1" stroke-dasharray="1,2"/>
<line x1="418.5" y1="382.5" x2="418.5" y2="386.5" stroke="#000" stroke-width="1"/>
<line x1="448.5" y1="264.5" x2="448.5" y2="382.5" stroke="#000" stroke-width="1" stroke-dasharray="1,2"/>
<line x1="448.5" y1="382.5" x2="448.5" y2="386.5" stroke="#000" stroke-width="1"/>
<line x1="478.5" y1="264.5" x2="478.5" y2="382.5" stroke="#000" stroke-width="1" stroke-dasharray="1,2"/>
<line x1="478.5" y1="382.5" x2="478.5" y2="386.5" stroke="#000" stroke-width="1"/>
<line x1="508.5" y1="264.5" x2="508.5" y2="382.5" stroke="#000" stroke-width="1" stroke-dasharray="1,2"/>
<line x1="508.5" y1="382.5" x2="508.5" y2="386.5" stroke="#000" stroke-width="1"/>
<line x1="538.5" y1="264.5" x2="538.5" y2="382.5" stroke="#000" stroke-width="1" stroke-dasharray="1,2"/>
<line x1="538.5" y1="382.5" x2="538.5" y2="386.5" stroke="#000" stroke-width="1"/>
<line x1="568.5" y1="264.5" x2="568.5" y2="382.5" stroke="#000" stroke-width="1" stroke-dasharray="1,2"/>
<line x1="568.5" y1="382.5" x2="568.5" y2="386.5" stroke="#000" stroke-width="1"/>
<line x1="598.5" y1="264.5" x2="598.5" y2="382.5" stroke="#000" stroke-width="1" stroke-dasharray="1,2"/>
<line x1="598.5" y1="382.5" x2="598.5" y2="386.5" stroke="#000" stroke-width="1"/>
<line x1="628.5" y1="264.5" x2="628.5" y2="382.5" stroke="#000" stroke-width="1" stroke-dasharray="1,2"/>
<line x1="628.5" y1="382.5" x2="628.5" y2="386.5" stroke="#000" stroke-width="1"/>
<line x1="658.5" y1="264.5" x2="658.5" y2="382.5" stroke="#000" stroke-width="1" stroke-dasharray="1,2"/>
<line x1="658.5" y1="382.5" x2="658.5" y2="386.5" stroke="#000" stroke-width="1"/>
<line x1="687.5" y1="264.5" x2="687.5" y2="382.5" stroke="#000" stroke-width="1" stroke-dasharray="1,2"/>
<line x1="687.5" y1="382.5" x2="687.5" y2="386.5" stroke="#000" stroke-width="1"/>
<line x1="717.5" y1="264.5" x2="717.5" y2="382.5" stroke="#000" stroke-width="1" stroke-dasharray="1,2"/>
<line x1="717.5" y1="382.5" x2="717.5" y2="386.5" stroke="#000" stroke-width="1"/>
<line x1="747.5" y1="264.5" x2="747.5" y2="382.5" stroke="#000" stroke-width="1" stroke-dasharray="1,2"/>
<line x1="747.5" y1="382.5" x2="747.5" y2="386.5" stroke="#000" stroke-width="1"/>
<line x1="777.5" y1="264.5" x2="777.5" y2="382.5" stroke="#000" stroke-width="1" stroke-dasharray="1,2"/>
<line x1="777.5" y1="382.5" x2="777.5" y2="386.5" stroke="#000" stroke-width="1"/>
<line x1="807.5" y1="264.5" x2="807.5" y2="382.5" stroke="#000" stroke-width="1" stroke-dasharray="1,2"/>
<line x1="807.5" y1="382.5" x2="807.5" y2="386.5" stroke="#000" stroke-width="1"/>
<line x1="837.5" y1="264.5" x2="837.5" y2="382.5" stroke="#000" stroke-width="1" stroke-dasharray="1,2"/>
<line x1="837.5" y1="382.5" x2="837.5" y2="386.5" stroke="#000" stroke-width="1"/>
<line x1="867.5" y1="264.5" x2="867.5" y2="382.5" stroke="#000" stroke-width="1" stroke-dasharray="1,2"/>
<line x1="867.5" y1="382.5" x2="867.5" y2="386.5" stroke="#000" stroke-width="1"/>
<line x1="897.5" y1="264.5" x2="897.5" y2="382.5" stroke="#000" stroke-width="1" stroke-dasharray="1,2"/>
<line x1="897.5" y1="382.5" x2="897.5" y2="386.5" stroke="#000" stroke-width="1"/>
<line x1="927.5" y1="264.5" x2="927.5" y2="382.5" stroke="#000" stroke-width="1" stroke-dasharray="1,2"/>
<line x1="927.5" y1="382.5" x2="927.5" y2="386.5" stroke="#000" stroke-width="1"/>
<line x1="957.5" y1="264.5" x2="957.5" y2="382.5" stroke="#000" stroke-width="1" stroke-dasharray="1,2"/>
<line x1="957.5" y1="382.5" x2="957.5" y2="386.5" stroke="#000" stroke-width="1"/>
<line x1="986.5" y1="264.5" x2="986.5" y2="382.5" stroke="#000" stroke-width="1" stroke-dasharray="1,2"/>
<line x1="986.5" y1="382.5" x2="986.5" y2="386.5" stroke="#000" stroke-width="1"/>
<line x1="1016.5" y1="264.5" x2="1016.5" y2="382.5" stroke="#000" stroke-width="1" stroke-dasharray="1,2"/>
<line x1="1016.5" y1="382.5" x2="1016.5" y2="386.5" stroke="#000" stroke-width="1"/>
<line x1="1046.5" y1="264.5" x2="1046.5" y2="382.5" stroke="#000" stroke-width="1" stroke-dasharray="1,2"/>
<line x1="1046.5" y1="382.5" x2="1046.5" y2="386.5" stroke="#000" stroke-width="1"/>
<line x1="151.5" y1="297.5" x2="1075.5" y2="297.5" stroke="#000" stroke-width="1" stroke-dasharray="1,2"/>
<line x1="119.5" y1="297.5" x2="149.5" y2="297.5" stroke="#000" stroke-width="1"/>
<line x1="151.5" y1="333.5" x2="1075.5" y2="333.5" stroke="#000" stroke-width="1" stroke-dasharray="1,2"/>
<line x1="119.5" y1="333.5" x2="149.5" y2="333.5" stroke="#000" stroke-width="1"/>
<line x1="151.5" y1="368.5" x2="1075.5" y2="368.5" stroke="#000" stroke-width="1" stroke-dasharray="1,2"/>
<line x1="119.5" y1="368.5" x2="149.5" y2="368.5" stroke="#000" stroke-width="1"/>
<rect x="119.5" y="262.5" width="957.0" height="124.0" fill="none" stroke="#000" stroke-width="1"/>
</g>
<path transform="translate(101.6,270.4) scale(0.010889,-0.010889)" d="M763 0h-180v1147q-65 -62 -170.5 -124t-189.5 -93v174q151 71 264 172t160 196h116v-1472z"/>
<text x="83" y="305.4" font-size="22.3" xml:space="preserve">0.8</text>
<text x="83" y="341.4" font-size="22.3" xml:space="preserve">0.6</text>
<text x="83" y="376.4" font-size="22.3" xml:space="preserve">0.4</text>
<clipPath id="clip1"><rect x="119.5" y="262.0" width="957.0" height="125.0"/></clipPath>
<g clip-path="url(#clip1)" shape-rendering="crispEdges">
<line x1="272" y1="287" x2="278" y2="287" stroke="#cc0000" stroke-width="2.0"/>
<line x1="287" y1="287" x2="292" y2="287" stroke="#cc0000" stroke-width="2.0"/>
<line x1="291" y1="287" x2="297" y2="287" stroke="#cc0000" stroke-width="2.0"/>
<line x1="306" y1="287" x2="311" y2="287" stroke="#cc0000" stroke-width="2.0"/>
<line x1="330" y1="280" x2="335" y2="280" stroke="#cc0000" stroke-width="2.0"/>
<line x1="344" y1="280" x2="350" y2="280" stroke="#cc0000" stroke-width="2.0"/>
<line x1="416" y1="267" x2="416" y2="300" stroke="#cc0000" stroke-width="2.0"/>
<line x1="425" y1="306" x2="431" y2="306" stroke="#cc0000" stroke-width="2.0"/>
<line x1="440" y1="306" x2="445" y2="306" stroke="#cc0000" stroke-width="2.0"/>
<line x1="483" y1="274" x2="488" y2="274" stroke="#cc0000" stroke-width="2.0"/>
<line x1="497" y1="274" x2="503" y2="274" stroke="#cc0000" stroke-width="2.0"/>
<line x1="502" y1="277" x2="507" y2="277" stroke="#cc0000" stroke-width="2.0"/>
<line x1="516" y1="277" x2="522" y2="277" stroke="#cc0000" stroke-width="2.0"/>
<line x1="521" y1="297" x2="527" y2="297" stroke="#cc0000" stroke-width="2.0"/>
<line x1="536" y1="297" x2="541" y2="297" stroke="#cc0000" stroke-width="2.0"/>
<line x1="540" y1="276" x2="546" y2="276" stroke="#cc0000" stroke-width="2.0"/>
<line x1="555" y1="276" x2="560" y2="276" stroke="#cc0000" stroke-width="2.0"/>
<line x1="559" y1="294" x2="565" y2="294" stroke="#cc0000" stroke-width="2.0"/>
<line x1="574" y1="294" x2="579" y2="294" stroke="#cc0000" stroke-width="2.0"/>
<line x1="569" y1="262" x2="569" y2="290" stroke="#cc0000" stroke-width="2.0"/>
<line x1="569" y1="299" x2="569" y2="330" stroke="#cc0000" stroke-width="2.0"/>
<line x1="578" y1="272" x2="584" y2="272" stroke="#cc0000" stroke-width="2.0"/>
<line x1="593" y1="272" x2="599" y2="272" stroke="#cc0000" stroke-width="2.0"/>
<line x1="588" y1="262" x2="588" y2="268" stroke="#cc0000" stroke-width="2.0"/>
<line x1="588" y1="277" x2="588" y2="284" stroke="#cc0000" stroke-width="2.0"/>
<line x1="598" y1="279" x2="603" y2="279" stroke="#cc0000" stroke-width="2.0"/>
<line x1="612" y1="279" x2="618" y2="279" stroke="#cc0000" stroke-width="2.0"/>
<line x1="607" y1="262" x2="607" y2="275" stroke="#cc0000" stroke-width="2.0"/>
<line x1="607" y1="284" x2="607" y2="300" stroke="#cc0000" stroke-width="2.0"/>
<line x1="617" y1="270" x2="622" y2="270" stroke="#cc0000" stroke-width="2.0"/>
<line x1="631" y1="270" x2="637" y2="270" stroke="#cc0000" stroke-width="2.0"/>
<line x1="636" y1="299" x2="641" y2="299" stroke="#cc0000" stroke-width="2.0"/>
<line x1="650" y1="299" x2="656" y2="299" stroke="#cc0000" stroke-width="2.0"/>
<line x1="645" y1="262" x2="645" y2="295" stroke="#cc0000" stroke-width="2.0"/>
<line x1="645" y1="304" x2="645" y2="340" stroke="#cc0000" stroke-width="2.0"/>
<line x1="655" y1="294" x2="660" y2="294" stroke="#cc0000" stroke-width="2.0"/>
<line x1="669" y1="294" x2="675" y2="294" stroke="#cc0000" stroke-width="2.0"/>
<line x1="664" y1="262" x2="664" y2="290" stroke="#cc0000" stroke-width="2.0"/>
<line x1="664" y1="299" x2="664" y2="330" stroke="#cc0000" stroke-width="2.0"/>
<line x1="674" y1="297" x2="680" y2="297" stroke="#cc0000" stroke-width="2.0"/>
<line x1="689" y1="297" x2="694" y2="297" stroke="#cc0000" stroke-width="2.0"/>
<line x1="693" y1="284" x2="699" y2="284" stroke="#cc0000" stroke-width="2.0"/>
<line x1="708" y1="284" x2="713" y2="284" stroke="#cc0000" stroke-width="2.0"/>
<line x1="703" y1="262" x2="703" y2="280" stroke="#cc0000" stroke-width="2.0"/>
<line x1="703" y1="289" x2="703" y2="320" stroke="#cc0000" stroke-width="2.0"/>
<line x1="712" y1="287" x2="718" y2="287" stroke="#cc0000" stroke-width="2.0"/>
<line x1="727" y1="287" x2="732" y2="287" stroke="#cc0000" stroke-width="2.0"/>
<line x1="731" y1="276" x2="737" y2="276" stroke="#cc0000" stroke-width="2.0"/>
<line x1="746" y1="276" x2="752" y2="276" stroke="#cc0000" stroke-width="2.0"/>
<line x1="846" y1="277" x2="852" y2="277" stroke="#cc0000" stroke-width="2.0"/>
<line x1="861" y1="277" x2="866" y2="277" stroke="#cc0000" stroke-width="2.0"/>
</g>
<circle cx="224.5" cy="262.5" r="4.45" fill="#000"/>
<circle cx="282.5" cy="287.5" r="4.45" fill="#000"/>
<circle cx="301.5" cy="287.5" r="4.45" fill="#000"/>
<circle cx="320.5" cy="262.5" r="4.45" fill="#000"/>
<circle cx="339.5" cy="280.5" r="4.45" fill="#000"/>
<circle cx="358.5" cy="262.5" r="4.45" fill="#000"/>
<circle cx="377.5" cy="262.5" r="4.45" fill="#000"/>
<circle cx="416.5" cy="262.5" r="4.45" fill="#000"/>
<circle cx="435.5" cy="306.5" r="4.45" fill="#000"/>
<circle cx="454.5" cy="262.5" r="4.45" fill="#000"/>
<circle cx="473.5" cy="262.5" r="4.45" fill="#000"/>
<circle cx="492.5" cy="274.5" r="4.45" fill="#000"/>
<circle cx="511.5" cy="277.5" r="4.45" fill="#000"/>
<circle cx="531.5" cy="297.5" r="4.45" fill="#000"/>
<circle cx="550.5" cy="276.5" r="4.45" fill="#000"/>
<circle cx="569.5" cy="294.5" r="4.45" fill="#000"/>
<circle cx="588.5" cy="272.5" r="4.45" fill="#000"/>
<circle cx="607.5" cy="279.5" r="4.45" fill="#000"/>
<circle cx="626.5" cy="270.5" r="4.45" fill="#000"/>
<circle cx="645.5" cy="299.5" r="4.45" fill="#000"/>
<circle cx="664.5" cy="294.5" r="4.45" fill="#000"/>
<circle cx="684.5" cy="297.5" r="4.45" fill="#000"/>
<circle cx="703.5" cy="284.5" r="4.45" fill="#000"/>
<circle cx="722.5" cy="287.5" r="4.45" fill="#000"/>
<circle cx="741.5" cy="276.5" r="4.45" fill="#000"/>
<circle cx="760.5" cy="262.5" r="4.45" fill="#000"/>
<circle cx="779.5" cy="262.5" r="4.45" fill="#000"/>
<circle cx="798.5" cy="262.5" r="4.45" fill="#000"/>
<circle cx="818.5" cy="262.5" r="4.45" fill="#000"/>
<circle cx="837.5" cy="262.5" r="4.45" fill="#000"/>
<circle cx="856.5" cy="277.5" r="4.45" fill="#000"/>
<circle cx="875.5" cy="262.5" r="4.45" fill="#000"/>
<circle cx="894.5" cy="262.5" r="4.45" fill="#000"/>
<circle cx="913.5" cy="262.5" r="4.45" fill="#000"/>
<g clip-path="url(#clip1)" shape-rendering="crispEdges">
<line x1="272" y1="363" x2="277" y2="363" stroke="#6600cc" stroke-width="2.0"/>
<line x1="287" y1="363" x2="292" y2="363" stroke="#6600cc" stroke-width="2.0"/>
<line x1="291" y1="287" x2="296" y2="287" stroke="#6600cc" stroke-width="2.0"/>
<line x1="306" y1="287" x2="311" y2="287" stroke="#6600cc" stroke-width="2.0"/>
<line x1="330" y1="333" x2="334" y2="333" stroke="#6600cc" stroke-width="2.0"/>
<line x1="344" y1="333" x2="350" y2="333" stroke="#6600cc" stroke-width="2.0"/>
<line x1="425" y1="350" x2="430" y2="350" stroke="#6600cc" stroke-width="2.0"/>
<line x1="440" y1="350" x2="445" y2="350" stroke="#6600cc" stroke-width="2.0"/>
<line x1="444" y1="333" x2="449" y2="333" stroke="#6600cc" stroke-width="2.0"/>
<line x1="459" y1="333" x2="465" y2="333" stroke="#6600cc" stroke-width="2.0"/>
<line x1="464" y1="287" x2="468" y2="287" stroke="#6600cc" stroke-width="2.0"/>
<line x1="478" y1="287" x2="484" y2="287" stroke="#6600cc" stroke-width="2.0"/>
<line x1="483" y1="286" x2="487" y2="286" stroke="#6600cc" stroke-width="2.0"/>
<line x1="497" y1="286" x2="503" y2="286" stroke="#6600cc" stroke-width="2.0"/>
<line x1="502" y1="306" x2="506" y2="306" stroke="#6600cc" stroke-width="2.0"/>
<line x1="516" y1="306" x2="522" y2="306" stroke="#6600cc" stroke-width="2.0"/>
<line x1="521" y1="306" x2="526" y2="306" stroke="#6600cc" stroke-width="2.0"/>
<line x1="536" y1="306" x2="541" y2="306" stroke="#6600cc" stroke-width="2.0"/>
<line x1="540" y1="296" x2="545" y2="296" stroke="#6600cc" stroke-width="2.0"/>
<line x1="555" y1="296" x2="560" y2="296" stroke="#6600cc" stroke-width="2.0"/>
<line x1="550" y1="270" x2="550" y2="291" stroke="#6600cc" stroke-width="2.0"/>
<line x1="550" y1="301" x2="550" y2="355.3" stroke="#6600cc" stroke-width="2.0"/>
<line x1="559" y1="312" x2="564" y2="312" stroke="#6600cc" stroke-width="2.0"/>
<line x1="574" y1="312" x2="579" y2="312" stroke="#6600cc" stroke-width="2.0"/>
<line x1="569" y1="280" x2="569" y2="307" stroke="#6600cc" stroke-width="2.0"/>
<line x1="569" y1="317" x2="569" y2="348.6" stroke="#6600cc" stroke-width="2.0"/>
<line x1="578" y1="313" x2="583" y2="313" stroke="#6600cc" stroke-width="2.0"/>
<line x1="593" y1="313" x2="599" y2="313" stroke="#6600cc" stroke-width="2.0"/>
<line x1="588" y1="303.5" x2="588" y2="308" stroke="#6600cc" stroke-width="2.0"/>
<line x1="588" y1="318" x2="588" y2="324.4" stroke="#6600cc" stroke-width="2.0"/>
<line x1="598" y1="294" x2="602" y2="294" stroke="#6600cc" stroke-width="2.0"/>
<line x1="612" y1="294" x2="618" y2="294" stroke="#6600cc" stroke-width="2.0"/>
<line x1="607" y1="270" x2="607" y2="289" stroke="#6600cc" stroke-width="2.0"/>
<line x1="607" y1="299" x2="607" y2="319.4" stroke="#6600cc" stroke-width="2.0"/>
<line x1="617" y1="290" x2="621" y2="290" stroke="#6600cc" stroke-width="2.0"/>
<line x1="631" y1="290" x2="637" y2="290" stroke="#6600cc" stroke-width="2.0"/>
<line x1="636" y1="306" x2="640" y2="306" stroke="#6600cc" stroke-width="2.0"/>
<line x1="650" y1="306" x2="656" y2="306" stroke="#6600cc" stroke-width="2.0"/>
<line x1="645" y1="267.5" x2="645" y2="301" stroke="#6600cc" stroke-width="2.0"/>
<line x1="645" y1="311" x2="645" y2="345" stroke="#6600cc" stroke-width="2.0"/>
<line x1="655" y1="314" x2="659" y2="314" stroke="#6600cc" stroke-width="2.0"/>
<line x1="669" y1="314" x2="675" y2="314" stroke="#6600cc" stroke-width="2.0"/>
<line x1="664" y1="267.5" x2="664" y2="309" stroke="#6600cc" stroke-width="2.0"/>
<line x1="664" y1="319" x2="664" y2="360" stroke="#6600cc" stroke-width="2.0"/>
<line x1="674" y1="306" x2="679" y2="306" stroke="#6600cc" stroke-width="2.0"/>
<line x1="689" y1="306" x2="694" y2="306" stroke="#6600cc" stroke-width="2.0"/>
<line x1="693" y1="328" x2="698" y2="328" stroke="#6600cc" stroke-width="2.0"/>
<line x1="708" y1="328" x2="713" y2="328" stroke="#6600cc" stroke-width="2.0"/>
<line x1="703" y1="265.9" x2="703" y2="323" stroke="#6600cc" stroke-width="2.0"/>
<line x1="703" y1="333" x2="703" y2="380" stroke="#6600cc" stroke-width="2.0"/>
<line x1="712" y1="287" x2="717" y2="287" stroke="#6600cc" stroke-width="2.0"/>
<line x1="727" y1="287" x2="732" y2="287" stroke="#6600cc" stroke-width="2.0"/>
<line x1="731" y1="321" x2="736" y2="321" stroke="#6600cc" stroke-width="2.0"/>
<line x1="746" y1="321" x2="752" y2="321" stroke="#6600cc" stroke-width="2.0"/>
<line x1="751" y1="328" x2="755" y2="328" stroke="#6600cc" stroke-width="2.0"/>
<line x1="765" y1="328" x2="771" y2="328" stroke="#6600cc" stroke-width="2.0"/>
<line x1="770" y1="291" x2="774" y2="291" stroke="#6600cc" stroke-width="2.0"/>
<line x1="784" y1="291" x2="790" y2="291" stroke="#6600cc" stroke-width="2.0"/>
<line x1="808" y1="287" x2="813" y2="287" stroke="#6600cc" stroke-width="2.0"/>
<line x1="823" y1="287" x2="828" y2="287" stroke="#6600cc" stroke-width="2.0"/>
<line x1="827" y1="291" x2="832" y2="291" stroke="#6600cc" stroke-width="2.0"/>
<line x1="842" y1="291" x2="847" y2="291" stroke="#6600cc" stroke-width="2.0"/>
<line x1="846" y1="310" x2="851" y2="310" stroke="#6600cc" stroke-width="2.0"/>
<line x1="861" y1="310" x2="866" y2="310" stroke="#6600cc" stroke-width="2.0"/>
<line x1="856" y1="262" x2="856" y2="305" stroke="#6600cc" stroke-width="2.0"/>
<line x1="856" y1="315" x2="856" y2="360" stroke="#6600cc" stroke-width="2.0"/>
<line x1="885" y1="306" x2="889" y2="306" stroke="#6600cc" stroke-width="2.0"/>
<line x1="899" y1="306" x2="905" y2="306" stroke="#6600cc" stroke-width="2.0"/>
</g>
<rect x="219.5" y="257.5" width="9" height="9" fill="none" stroke="#000" stroke-width="1"/>
<rect x="277.5" y="358.5" width="9" height="9" fill="none" stroke="#000" stroke-width="1"/>
<rect x="296.5" y="282.5" width="9" height="9" fill="none" stroke="#000" stroke-width="1"/>
<rect x="315.5" y="257.5" width="9" height="9" fill="none" stroke="#000" stroke-width="1"/>
<rect x="334.5" y="328.5" width="9" height="9" fill="none" stroke="#000" stroke-width="1"/>
<rect x="353.5" y="257.5" width="9" height="9" fill="none" stroke="#000" stroke-width="1"/>
<rect x="372.5" y="257.5" width="9" height="9" fill="none" stroke="#000" stroke-width="1"/>
<rect x="430.5" y="345.5" width="9" height="9" fill="none" stroke="#000" stroke-width="1"/>
<rect x="449.5" y="328.5" width="9" height="9" fill="none" stroke="#000" stroke-width="1"/>
<rect x="468.5" y="282.5" width="9" height="9" fill="none" stroke="#000" stroke-width="1"/>
<rect x="487.5" y="281.5" width="9" height="9" fill="none" stroke="#000" stroke-width="1"/>
<rect x="506.5" y="301.5" width="9" height="9" fill="none" stroke="#000" stroke-width="1"/>
<rect x="526.5" y="301.5" width="9" height="9" fill="none" stroke="#000" stroke-width="1"/>
<rect x="545.5" y="291.5" width="9" height="9" fill="none" stroke="#000" stroke-width="1"/>
<rect x="564.5" y="307.5" width="9" height="9" fill="none" stroke="#000" stroke-width="1"/>
<rect x="583.5" y="308.5" width="9" height="9" fill="none" stroke="#000" stroke-width="1"/>
<rect x="602.5" y="289.5" width="9" height="9" fill="none" stroke="#000" stroke-width="1"/>
<rect x="621.5" y="285.5" width="9" height="9" fill="none" stroke="#000" stroke-width="1"/>
<rect x="640.5" y="301.5" width="9" height="9" fill="none" stroke="#000" stroke-width="1"/>
<rect x="659.5" y="309.5" width="9" height="9" fill="none" stroke="#000" stroke-width="1"/>
<rect x="679.5" y="301.5" width="9" height="9" fill="none" stroke="#000" stroke-width="1"/>
<rect x="698.5" y="323.5" width="9" height="9" fill="none" stroke="#000" stroke-width="1"/>
<rect x="717.5" y="282.5" width="9" height="9" fill="none" stroke="#000" stroke-width="1"/>
<rect x="736.5" y="316.5" width="9" height="9" fill="none" stroke="#000" stroke-width="1"/>
<rect x="755.5" y="323.5" width="9" height="9" fill="none" stroke="#000" stroke-width="1"/>
<rect x="774.5" y="286.5" width="9" height="9" fill="none" stroke="#000" stroke-width="1"/>
<rect x="793.5" y="257.5" width="9" height="9" fill="none" stroke="#000" stroke-width="1"/>
<rect x="813.5" y="282.5" width="9" height="9" fill="none" stroke="#000" stroke-width="1"/>
<rect x="832.5" y="286.5" width="9" height="9" fill="none" stroke="#000" stroke-width="1"/>
<rect x="851.5" y="305.5" width="9" height="9" fill="none" stroke="#000" stroke-width="1"/>
<rect x="870.5" y="257.5" width="9" height="9" fill="none" stroke="#000" stroke-width="1"/>
<rect x="889.5" y="301.5" width="9" height="9" fill="none" stroke="#000" stroke-width="1"/>
<rect x="908.5" y="257.5" width="9" height="9" fill="none" stroke="#000" stroke-width="1"/>
<g clip-path="url(#clip1)" shape-rendering="crispEdges">
<line x1="224" y1="266" x2="224" y2="387.5" stroke="#33ccff" stroke-width="2.0"/>
<line x1="272" y1="312" x2="278" y2="312" stroke="#33ccff" stroke-width="2.0"/>
<line x1="286" y1="312" x2="292" y2="312" stroke="#33ccff" stroke-width="2.0"/>
<line x1="282" y1="262" x2="282" y2="308" stroke="#33ccff" stroke-width="2.0"/>
<line x1="282" y1="316" x2="282" y2="387.5" stroke="#33ccff" stroke-width="2.0"/>
<line x1="291" y1="287" x2="297" y2="287" stroke="#33ccff" stroke-width="2.0"/>
<line x1="305" y1="287" x2="311" y2="287" stroke="#33ccff" stroke-width="2.0"/>
<line x1="301" y1="262" x2="301" y2="283" stroke="#33ccff" stroke-width="2.0"/>
<line x1="301" y1="291" x2="301" y2="387.5" stroke="#33ccff" stroke-width="2.0"/>
<line x1="320" y1="266" x2="320" y2="387.5" stroke="#33ccff" stroke-width="2.0"/>
<line x1="330" y1="333" x2="335" y2="333" stroke="#33ccff" stroke-width="2.0"/>
<line x1="343" y1="333" x2="350" y2="333" stroke="#33ccff" stroke-width="2.0"/>
<line x1="339" y1="262" x2="339" y2="329" stroke="#33ccff" stroke-width="2.0"/>
<line x1="339" y1="337" x2="339" y2="387.5" stroke="#33ccff" stroke-width="2.0"/>
<line x1="358" y1="266" x2="358" y2="387.5" stroke="#33ccff" stroke-width="2.0"/>
<line x1="368" y1="306" x2="373" y2="306" stroke="#33ccff" stroke-width="2.0"/>
<line x1="381" y1="306" x2="388" y2="306" stroke="#33ccff" stroke-width="2.0"/>
<line x1="377" y1="262" x2="377" y2="302" stroke="#33ccff" stroke-width="2.0"/>
<line x1="377" y1="310" x2="377" y2="387.5" stroke="#33ccff" stroke-width="2.0"/>
<line x1="406" y1="400" x2="412" y2="400" stroke="#33ccff" stroke-width="2.0"/>
<line x1="420" y1="400" x2="426" y2="400" stroke="#33ccff" stroke-width="2.0"/>
<line x1="416" y1="286.8" x2="416" y2="396" stroke="#33ccff" stroke-width="2.0"/>
<line x1="425" y1="321" x2="431" y2="321" stroke="#33ccff" stroke-width="2.0"/>
<line x1="439" y1="321" x2="445" y2="321" stroke="#33ccff" stroke-width="2.0"/>
<line x1="435" y1="262" x2="435" y2="317" stroke="#33ccff" stroke-width="2.0"/>
<line x1="435" y1="325" x2="435" y2="387.5" stroke="#33ccff" stroke-width="2.0"/>
<line x1="444" y1="333" x2="450" y2="333" stroke="#33ccff" stroke-width="2.0"/>
<line x1="458" y1="333" x2="465" y2="333" stroke="#33ccff" stroke-width="2.0"/>
<line x1="454" y1="262" x2="454" y2="329" stroke="#33ccff" stroke-width="2.0"/>
<line x1="454" y1="337" x2="454" y2="387.5" stroke="#33ccff" stroke-width="2.0"/>
<line x1="464" y1="287" x2="469" y2="287" stroke="#33ccff" stroke-width="2.0"/>
<line x1="477" y1="287" x2="484" y2="287" stroke="#33ccff" stroke-width="2.0"/>
<line x1="473" y1="262" x2="473" y2="283" stroke="#33ccff" stroke-width="2.0"/>
<line x1="473" y1="291" x2="473" y2="387.5" stroke="#33ccff" stroke-width="2.0"/>
<line x1="483" y1="298" x2="488" y2="298" stroke="#33ccff" stroke-width="2.0"/>
<line x1="496" y1="298" x2="503" y2="298" stroke="#33ccff" stroke-width="2.0"/>
<line x1="492" y1="262" x2="492" y2="294" stroke="#33ccff" stroke-width="2.0"/>
<line x1="492" y1="302" x2="492" y2="387.5" stroke="#33ccff" stroke-width="2.0"/>
<line x1="502" y1="277" x2="507" y2="277" stroke="#33ccff" stroke-width="2.0"/>
<line x1="515" y1="277" x2="522" y2="277" stroke="#33ccff" stroke-width="2.0"/>
<line x1="511" y1="262" x2="511" y2="273" stroke="#33ccff" stroke-width="2.0"/>
<line x1="511" y1="281" x2="511" y2="387.5" stroke="#33ccff" stroke-width="2.0"/>
<line x1="521" y1="306" x2="527" y2="306" stroke="#33ccff" stroke-width="2.0"/>
<line x1="535" y1="306" x2="541" y2="306" stroke="#33ccff" stroke-width="2.0"/>
<line x1="531" y1="262" x2="531" y2="302" stroke="#33ccff" stroke-width="2.0"/>
<line x1="531" y1="310" x2="531" y2="387.5" stroke="#33ccff" stroke-width="2.0"/>
<line x1="540" y1="289" x2="546" y2="289" stroke="#33ccff" stroke-width="2.0"/>
<line x1="554" y1="289" x2="560" y2="289" stroke="#33ccff" stroke-width="2.0"/>
<line x1="550" y1="262" x2="550" y2="285" stroke="#33ccff" stroke-width="2.0"/>
<line x1="550" y1="293" x2="550" y2="351.6" stroke="#33ccff" stroke-width="2.0"/>
<line x1="559" y1="303" x2="565" y2="303" stroke="#33ccff" stroke-width="2.0"/>
<line x1="573" y1="303" x2="579" y2="303" stroke="#33ccff" stroke-width="2.0"/>
<line x1="569" y1="265.9" x2="569" y2="299" stroke="#33ccff" stroke-width="2.0"/>
<line x1="569" y1="307" x2="569" y2="341.9" stroke="#33ccff" stroke-width="2.0"/>
<line x1="578" y1="288" x2="584" y2="288" stroke="#33ccff" stroke-width="2.0"/>
<line x1="592" y1="288" x2="599" y2="288" stroke="#33ccff" stroke-width="2.0"/>
<line x1="588" y1="275.9" x2="588" y2="284" stroke="#33ccff" stroke-width="2.0"/>
<line x1="588" y1="292" x2="588" y2="301" stroke="#33ccff" stroke-width="2.0"/>
<line x1="598" y1="290" x2="603" y2="290" stroke="#33ccff" stroke-width="2.0"/>
<line x1="611" y1="290" x2="618" y2="290" stroke="#33ccff" stroke-width="2.0"/>
<line x1="607" y1="264" x2="607" y2="286" stroke="#33ccff" stroke-width="2.0"/>
<line x1="607" y1="294" x2="607" y2="315.2" stroke="#33ccff" stroke-width="2.0"/>
<line x1="617" y1="290" x2="622" y2="290" stroke="#33ccff" stroke-width="2.0"/>
<line x1="630" y1="290" x2="637" y2="290" stroke="#33ccff" stroke-width="2.0"/>
<line x1="626" y1="262" x2="626" y2="286" stroke="#33ccff" stroke-width="2.0"/>
<line x1="626" y1="294" x2="626" y2="328.6" stroke="#33ccff" stroke-width="2.0"/>
<line x1="636" y1="320" x2="641" y2="320" stroke="#33ccff" stroke-width="2.0"/>
<line x1="649" y1="320" x2="656" y2="320" stroke="#33ccff" stroke-width="2.0"/>
<line x1="645" y1="282.6" x2="645" y2="316" stroke="#33ccff" stroke-width="2.0"/>
<line x1="645" y1="324" x2="645" y2="356.7" stroke="#33ccff" stroke-width="2.0"/>
<line x1="655" y1="321" x2="660" y2="321" stroke="#33ccff" stroke-width="2.0"/>
<line x1="668" y1="321" x2="675" y2="321" stroke="#33ccff" stroke-width="2.0"/>
<line x1="664" y1="275" x2="664" y2="317" stroke="#33ccff" stroke-width="2.0"/>
<line x1="664" y1="325" x2="664" y2="387.5" stroke="#33ccff" stroke-width="2.0"/>
<line x1="674" y1="315" x2="680" y2="315" stroke="#33ccff" stroke-width="2.0"/>
<line x1="688" y1="315" x2="694" y2="315" stroke="#33ccff" stroke-width="2.0"/>
<line x1="684" y1="262" x2="684" y2="311" stroke="#33ccff" stroke-width="2.0"/>
<line x1="684" y1="319" x2="684" y2="387.5" stroke="#33ccff" stroke-width="2.0"/>
<line x1="693" y1="339" x2="699" y2="339" stroke="#33ccff" stroke-width="2.0"/>
<line x1="707" y1="339" x2="713" y2="339" stroke="#33ccff" stroke-width="2.0"/>
<line x1="703" y1="281" x2="703" y2="335" stroke="#33ccff" stroke-width="2.0"/>
<line x1="703" y1="343" x2="703" y2="387.5" stroke="#33ccff" stroke-width="2.0"/>
<line x1="712" y1="287" x2="718" y2="287" stroke="#33ccff" stroke-width="2.0"/>
<line x1="726" y1="287" x2="732" y2="287" stroke="#33ccff" stroke-width="2.0"/>
<line x1="722" y1="262" x2="722" y2="283" stroke="#33ccff" stroke-width="2.0"/>
<line x1="722" y1="291" x2="722" y2="387.5" stroke="#33ccff" stroke-width="2.0"/>
<line x1="731" y1="291" x2="737" y2="291" stroke="#33ccff" stroke-width="2.0"/>
<line x1="745" y1="291" x2="752" y2="291" stroke="#33ccff" stroke-width="2.0"/>
<line x1="741" y1="262" x2="741" y2="287" stroke="#33ccff" stroke-width="2.0"/>
<line x1="741" y1="295" x2="741" y2="387.5" stroke="#33ccff" stroke-width="2.0"/>
<line x1="751" y1="284" x2="756" y2="284" stroke="#33ccff" stroke-width="2.0"/>
<line x1="764" y1="284" x2="771" y2="284" stroke="#33ccff" stroke-width="2.0"/>
<line x1="760" y1="262" x2="760" y2="280" stroke="#33ccff" stroke-width="2.0"/>
<line x1="760" y1="288" x2="760" y2="387.5" stroke="#33ccff" stroke-width="2.0"/>
<line x1="779" y1="266" x2="779" y2="387.5" stroke="#33ccff" stroke-width="2.0"/>
<line x1="798" y1="266" x2="798" y2="387.5" stroke="#33ccff" stroke-width="2.0"/>
<line x1="808" y1="338" x2="814" y2="338" stroke="#33ccff" stroke-width="2.0"/>
<line x1="822" y1="338" x2="828" y2="338" stroke="#33ccff" stroke-width="2.0"/>
<line x1="818" y1="262" x2="818" y2="334" stroke="#33ccff" stroke-width="2.0"/>
<line x1="818" y1="342" x2="818" y2="387.5" stroke="#33ccff" stroke-width="2.0"/>
<line x1="837" y1="266" x2="837" y2="387.5" stroke="#33ccff" stroke-width="2.0"/>
<line x1="846" y1="342" x2="852" y2="342" stroke="#33ccff" stroke-width="2.0"/>
<line x1="860" y1="342" x2="866" y2="342" stroke="#33ccff" stroke-width="2.0"/>
<line x1="856" y1="276" x2="856" y2="338" stroke="#33ccff" stroke-width="2.0"/>
<line x1="856" y1="346" x2="856" y2="387.5" stroke="#33ccff" stroke-width="2.0"/>
<line x1="875" y1="266" x2="875" y2="387.5" stroke="#33ccff" stroke-width="2.0"/>
<line x1="885" y1="284" x2="890" y2="284" stroke="#33ccff" stroke-width="2.0"/>
<line x1="898" y1="284" x2="905" y2="284" stroke="#33ccff" stroke-width="2.0"/>
<line x1="894" y1="262" x2="894" y2="280" stroke="#33ccff" stroke-width="2.0"/>
<line x1="894" y1="288" x2="894" y2="387.5" stroke="#33ccff" stroke-width="2.0"/>
<line x1="913" y1="266" x2="913" y2="387.5" stroke="#33ccff" stroke-width="2.0"/>
</g>
<path d="M219.9 266L228.1 266L224 257.8Z" fill="#000"/>
<path d="M277.9 316L286.1 316L282 307.8Z" fill="#000"/>
<path d="M296.9 291L305.1 291L301 282.8Z" fill="#000"/>
<path d="M315.9 266L324.1 266L320 257.8Z" fill="#000"/>
<path d="M334.9 337L343.1 337L339 328.8Z" fill="#000"/>
<path d="M353.9 266L362.1 266L358 257.8Z" fill="#000"/>
<path d="M372.9 310L381.1 310L377 301.8Z" fill="#000"/>
<path d="M430.9 325L439.1 325L435 316.8Z" fill="#000"/>
<path d="M449.9 337L458.1 337L454 328.8Z" fill="#000"/>
<path d="M468.9 291L477.1 291L473 282.8Z" fill="#000"/>
<path d="M487.9 302L496.1 302L492 293.8Z" fill="#000"/>
<path d="M506.9 281L515.1 281L511 272.8Z" fill="#000"/>
<path d="M526.9 310L535.1 310L531 301.8Z" fill="#000"/>
<path d="M545.9 293L554.1 293L550 284.8Z" fill="#000"/>
<path d="M564.9 307L573.1 307L569 298.8Z" fill="#000"/>
<path d="M583.9 292L592.1 292L588 283.8Z" fill="#000"/>
<path d="M602.9 294L611.1 294L607 285.8Z" fill="#000"/>
<path d="M621.9 294L630.1 294L626 285.8Z" fill="#000"/>
<path d="M640.9 324L649.1 324L645 315.8Z" fill="#000"/>
<path d="M659.9 325L668.1 325L664 316.8Z" fill="#000"/>
<path d="M679.9 319L688.1 319L684 310.8Z" fill="#000"/>
<path d="M698.9 343L707.1 343L703 334.8Z" fill="#000"/>
<path d="M717.9 291L726.1 291L722 282.8Z" fill="#000"/>
<path d="M736.9 295L745.1 295L741 286.8Z" fill="#000"/>
<path d="M755.9 288L764.1 288L760 279.8Z" fill="#000"/>
<path d="M774.9 266L783.1 266L779 257.8Z" fill="#000"/>
<path d="M793.9 266L802.1 266L798 257.8Z" fill="#000"/>
<path d="M813.9 342L822.1 342L818 333.8Z" fill="#000"/>
<path d="M832.9 266L841.1 266L837 257.8Z" fill="#000"/>
<path d="M851.9 346L860.1 346L856 337.8Z" fill="#000"/>
<path d="M870.9 266L879.1 266L875 257.8Z" fill="#000"/>
<path d="M889.9 288L898.1 288L894 279.8Z" fill="#000"/>
<path d="M908.9 266L917.1 266L913 257.8Z" fill="#000"/>
<rect x="239.5" y="367.5" width="538" height="19.0" fill="#fff" stroke="#000" stroke-width="1" shape-rendering="crispEdges"/>
<circle cx="261.5" cy="376.5" r="4.45" fill="#000"/>
<text x="283.7" y="381" font-size="14.1" xml:space="preserve">Mean hit  eff: 0.92</text>
<rect x="417.5" y="371.5" width="9" height="9" fill="none" stroke="#000" stroke-width="1"/>
<text x="443.9" y="381" font-size="14.1">Mean in-band hit eff: 0.74</text>
<path d="M626.9 380L635.1 380L631 371.8Z" fill="#000"/>
<text x="652.3" y="381" font-size="14.1">Mean reco eff: 0.82</text>
<text x="1081.8" y="288.8" font-size="29" xml:space="preserve">L2</text>
<g shape-rendering="crispEdges">
<line x1="149.5" y1="418.5" x2="149.5" y2="536.5" stroke="#000" stroke-width="1" stroke-dasharray="1,2"/>
<line x1="149.5" y1="536.5" x2="149.5" y2="540.5" stroke="#000" stroke-width="1"/>
<line x1="179.5" y1="418.5" x2="179.5" y2="536.5" stroke="#000" stroke-width="1" stroke-dasharray="1,2"/>
<line x1="179.5" y1="536.5" x2="179.5" y2="540.5" stroke="#000" stroke-width="1"/>
<line x1="209.5" y1="418.5" x2="209.5" y2="536.5" stroke="#000" stroke-width="1" stroke-dasharray="1,2"/>
<line x1="209.5" y1="536.5" x2="209.5" y2="540.5" stroke="#000" stroke-width="1"/>
<line x1="239.5" y1="418.5" x2="239.5" y2="536.5" stroke="#000" stroke-width="1" stroke-dasharray="1,2"/>
<line x1="239.5" y1="536.5" x2="239.5" y2="540.5" stroke="#000" stroke-width="1"/>
<line x1="269.5" y1="418.5" x2="269.5" y2="536.5" stroke="#000" stroke-width="1" stroke-dasharray="1,2"/>
<line x1="269.5" y1="536.5" x2="269.5" y2="540.5" stroke="#000" stroke-width="1"/>
<line x1="299.5" y1="418.5" x2="299.5" y2="536.5" stroke="#000" stroke-width="1" stroke-dasharray="1,2"/>
<line x1="299.5" y1="536.5" x2="299.5" y2="540.5" stroke="#000" stroke-width="1"/>
<line x1="329.5" y1="418.5" x2="329.5" y2="536.5" stroke="#000" stroke-width="1" stroke-dasharray="1,2"/>
<line x1="329.5" y1="536.5" x2="329.5" y2="540.5" stroke="#000" stroke-width="1"/>
<line x1="358.5" y1="418.5" x2="358.5" y2="536.5" stroke="#000" stroke-width="1" stroke-dasharray="1,2"/>
<line x1="358.5" y1="536.5" x2="358.5" y2="540.5" stroke="#000" stroke-width="1"/>
<line x1="388.5" y1="418.5" x2="388.5" y2="536.5" stroke="#000" stroke-width="1" stroke-dasharray="1,2"/>
<line x1="388.5" y1="536.5" x2="388.5" y2="540.5" stroke="#000" stroke-width="1"/>
<line x1="418.5" y1="418.5" x2="418.5" y2="536.5" stroke="#000" stroke-width="1" stroke-dasharray="1,2"/>
<line x1="418.5" y1="536.5" x2="418.5" y2="540.5" stroke="#000" stroke-width="1"/>
<line x1="448.5" y1="418.5" x2="448.5" y2="536.5" stroke="#000" stroke-width="1" stroke-dasharray="1,2"/>
<line x1="448.5" y1="536.5" x2="448.5" y2="540.5" stroke="#000" stroke-width="1"/>
<line x1="478.5" y1="418.5" x2="478.5" y2="536.5" stroke="#000" stroke-width="1" stroke-dasharray="1,2"/>
<line x1="478.5" y1="536.5" x2="478.5" y2="540.5" stroke="#000" stroke-width="1"/>
<line x1="508.5" y1="418.5" x2="508.5" y2="536.5" stroke="#000" stroke-width="1" stroke-dasharray="1,2"/>
<line x1="508.5" y1="536.5" x2="508.5" y2="540.5" stroke="#000" stroke-width="1"/>
<line x1="538.5" y1="418.5" x2="538.5" y2="536.5" stroke="#000" stroke-width="1" stroke-dasharray="1,2"/>
<line x1="538.5" y1="536.5" x2="538.5" y2="540.5" stroke="#000" stroke-width="1"/>
<line x1="568.5" y1="418.5" x2="568.5" y2="536.5" stroke="#000" stroke-width="1" stroke-dasharray="1,2"/>
<line x1="568.5" y1="536.5" x2="568.5" y2="540.5" stroke="#000" stroke-width="1"/>
<line x1="598.5" y1="418.5" x2="598.5" y2="536.5" stroke="#000" stroke-width="1" stroke-dasharray="1,2"/>
<line x1="598.5" y1="536.5" x2="598.5" y2="540.5" stroke="#000" stroke-width="1"/>
<line x1="628.5" y1="418.5" x2="628.5" y2="536.5" stroke="#000" stroke-width="1" stroke-dasharray="1,2"/>
<line x1="628.5" y1="536.5" x2="628.5" y2="540.5" stroke="#000" stroke-width="1"/>
<line x1="658.5" y1="418.5" x2="658.5" y2="536.5" stroke="#000" stroke-width="1" stroke-dasharray="1,2"/>
<line x1="658.5" y1="536.5" x2="658.5" y2="540.5" stroke="#000" stroke-width="1"/>
<line x1="687.5" y1="418.5" x2="687.5" y2="536.5" stroke="#000" stroke-width="1" stroke-dasharray="1,2"/>
<line x1="687.5" y1="536.5" x2="687.5" y2="540.5" stroke="#000" stroke-width="1"/>
<line x1="717.5" y1="418.5" x2="717.5" y2="536.5" stroke="#000" stroke-width="1" stroke-dasharray="1,2"/>
<line x1="717.5" y1="536.5" x2="717.5" y2="540.5" stroke="#000" stroke-width="1"/>
<line x1="747.5" y1="418.5" x2="747.5" y2="536.5" stroke="#000" stroke-width="1" stroke-dasharray="1,2"/>
<line x1="747.5" y1="536.5" x2="747.5" y2="540.5" stroke="#000" stroke-width="1"/>
<line x1="777.5" y1="418.5" x2="777.5" y2="536.5" stroke="#000" stroke-width="1" stroke-dasharray="1,2"/>
<line x1="777.5" y1="536.5" x2="777.5" y2="540.5" stroke="#000" stroke-width="1"/>
<line x1="807.5" y1="418.5" x2="807.5" y2="536.5" stroke="#000" stroke-width="1" stroke-dasharray="1,2"/>
<line x1="807.5" y1="536.5" x2="807.5" y2="540.5" stroke="#000" stroke-width="1"/>
<line x1="837.5" y1="418.5" x2="837.5" y2="536.5" stroke="#000" stroke-width="1" stroke-dasharray="1,2"/>
<line x1="837.5" y1="536.5" x2="837.5" y2="540.5" stroke="#000" stroke-width="1"/>
<line x1="867.5" y1="418.5" x2="867.5" y2="536.5" stroke="#000" stroke-width="1" stroke-dasharray="1,2"/>
<line x1="867.5" y1="536.5" x2="867.5" y2="540.5" stroke="#000" stroke-width="1"/>
<line x1="897.5" y1="418.5" x2="897.5" y2="536.5" stroke="#000" stroke-width="1" stroke-dasharray="1,2"/>
<line x1="897.5" y1="536.5" x2="897.5" y2="540.5" stroke="#000" stroke-width="1"/>
<line x1="927.5" y1="418.5" x2="927.5" y2="536.5" stroke="#000" stroke-width="1" stroke-dasharray="1,2"/>
<line x1="927.5" y1="536.5" x2="927.5" y2="540.5" stroke="#000" stroke-width="1"/>
<line x1="957.5" y1="418.5" x2="957.5" y2="536.5" stroke="#000" stroke-width="1" stroke-dasharray="1,2"/>
<line x1="957.5" y1="536.5" x2="957.5" y2="540.5" stroke="#000" stroke-width="1"/>
<line x1="986.5" y1="418.5" x2="986.5" y2="536.5" stroke="#000" stroke-width="1" stroke-dasharray="1,2"/>
<line x1="986.5" y1="536.5" x2="986.5" y2="540.5" stroke="#000" stroke-width="1"/>
<line x1="1016.5" y1="418.5" x2="1016.5" y2="536.5" stroke="#000" stroke-width="1" stroke-dasharray="1,2"/>
<line x1="1016.5" y1="536.5" x2="1016.5" y2="540.5" stroke="#000" stroke-width="1"/>
<line x1="1046.5" y1="418.5" x2="1046.5" y2="536.5" stroke="#000" stroke-width="1" stroke-dasharray="1,2"/>
<line x1="1046.5" y1="536.5" x2="1046.5" y2="540.5" stroke="#000" stroke-width="1"/>
<line x1="151.5" y1="452.5" x2="1075.5" y2="452.5" stroke="#000" stroke-width="1" stroke-dasharray="1,2"/>
<line x1="119.5" y1="452.5" x2="149.5" y2="452.5" stroke="#000" stroke-width="1"/>
<line x1="151.5" y1="487.5" x2="1075.5" y2="487.5" stroke="#000" stroke-width="1" stroke-dasharray="1,2"/>
<line x1="119.5" y1="487.5" x2="149.5" y2="487.5" stroke="#000" stroke-width="1"/>
<line x1="151.5" y1="522.5" x2="1075.5" y2="522.5" stroke="#000" stroke-width="1" stroke-dasharray="1,2"/>
<line x1="119.5" y1="522.5" x2="149.5" y2="522.5" stroke="#000" stroke-width="1"/>
<rect x="119.5" y="416.5" width="957.0" height="124.0" fill="none" stroke="#000" stroke-width="1"/>
</g>
<path transform="translate(101.6,424.4) scale(0.010889,-0.010889)" d="M763 0h-180v1147q-65 -62 -170.5 -124t-189.5 -93v174q151 71 264 172t160 196h116v-1472z"/>
<text x="83" y="460.4" font-size="22.3" xml:space="preserve">0.8</text>
<text x="83" y="495.4" font-size="22.3" xml:space="preserve">0.6</text>
<text x="83" y="530.4" font-size="22.3" xml:space="preserve">0.4</text>
<clipPath id="clip2"><rect x="119.5" y="416.0" width="957.0" height="125.0"/></clipPath>
<g clip-path="url(#clip2)" shape-rendering="crispEdges">
<line x1="272" y1="467" x2="278" y2="467" stroke="#cc0000" stroke-width="2.0"/>
<line x1="287" y1="467" x2="292" y2="467" stroke="#cc0000" stroke-width="2.0"/>
<line x1="282" y1="416" x2="282" y2="463" stroke="#cc0000" stroke-width="2.0"/>
<line x1="282" y1="472" x2="282" y2="500" stroke="#cc0000" stroke-width="2.0"/>
<line x1="310" y1="442" x2="316" y2="442" stroke="#cc0000" stroke-width="2.0"/>
<line x1="325" y1="442" x2="331" y2="442" stroke="#cc0000" stroke-width="2.0"/>
<line x1="330" y1="487" x2="335" y2="487" stroke="#cc0000" stroke-width="2.0"/>
<line x1="344" y1="487" x2="350" y2="487" stroke="#cc0000" stroke-width="2.0"/>
<line x1="349" y1="475" x2="354" y2="475" stroke="#cc0000" stroke-width="2.0"/>
<line x1="363" y1="475" x2="369" y2="475" stroke="#cc0000" stroke-width="2.0"/>
<line x1="406" y1="475" x2="412" y2="475" stroke="#cc0000" stroke-width="2.0"/>
<line x1="421" y1="475" x2="426" y2="475" stroke="#cc0000" stroke-width="2.0"/>
<line x1="425" y1="446" x2="431" y2="446" stroke="#cc0000" stroke-width="2.0"/>
<line x1="440" y1="446" x2="445" y2="446" stroke="#cc0000" stroke-width="2.0"/>
<line x1="444" y1="452" x2="450" y2="452" stroke="#cc0000" stroke-width="2.0"/>
<line x1="459" y1="452" x2="465" y2="452" stroke="#cc0000" stroke-width="2.0"/>
<line x1="464" y1="467" x2="469" y2="467" stroke="#cc0000" stroke-width="2.0"/>
<line x1="478" y1="467" x2="484" y2="467" stroke="#cc0000" stroke-width="2.0"/>
<line x1="483" y1="452" x2="488" y2="452" stroke="#cc0000" stroke-width="2.0"/>
<line x1="497" y1="452" x2="503" y2="452" stroke="#cc0000" stroke-width="2.0"/>
<line x1="502" y1="431" x2="507" y2="431" stroke="#cc0000" stroke-width="2.0"/>
<line x1="516" y1="431" x2="522" y2="431" stroke="#cc0000" stroke-width="2.0"/>
<line x1="521" y1="443" x2="527" y2="443" stroke="#cc0000" stroke-width="2.0"/>
<line x1="536" y1="443" x2="541" y2="443" stroke="#cc0000" stroke-width="2.0"/>
<line x1="540" y1="437" x2="546" y2="437" stroke="#cc0000" stroke-width="2.0"/>
<line x1="555" y1="437" x2="560" y2="437" stroke="#cc0000" stroke-width="2.0"/>
<line x1="559" y1="446" x2="565" y2="446" stroke="#cc0000" stroke-width="2.0"/>
<line x1="574" y1="446" x2="579" y2="446" stroke="#cc0000" stroke-width="2.0"/>
<line x1="569" y1="416" x2="569" y2="442" stroke="#cc0000" stroke-width="2.0"/>
<line x1="569" y1="451" x2="569" y2="480" stroke="#cc0000" stroke-width="2.0"/>
<line x1="578" y1="430" x2="584" y2="430" stroke="#cc0000" stroke-width="2.0"/>
<line x1="593" y1="430" x2="599" y2="430" stroke="#cc0000" stroke-width="2.0"/>
<line x1="588" y1="418.2" x2="588" y2="426" stroke="#cc0000" stroke-width="2.0"/>
<line x1="588" y1="435" x2="588" y2="443" stroke="#cc0000" stroke-width="2.0"/>
<line x1="598" y1="431" x2="603" y2="431" stroke="#cc0000" stroke-width="2.0"/>
<line x1="612" y1="431" x2="618" y2="431" stroke="#cc0000" stroke-width="2.0"/>
<line x1="607" y1="416" x2="607" y2="427" stroke="#cc0000" stroke-width="2.0"/>
<line x1="607" y1="436" x2="607" y2="455" stroke="#cc0000" stroke-width="2.0"/>
<line x1="617" y1="422" x2="622" y2="422" stroke="#cc0000" stroke-width="2.0"/>
<line x1="631" y1="422" x2="637" y2="422" stroke="#cc0000" stroke-width="2.0"/>
<line x1="636" y1="459" x2="641" y2="459" stroke="#cc0000" stroke-width="2.0"/>
<line x1="650" y1="459" x2="656" y2="459" stroke="#cc0000" stroke-width="2.0"/>
<line x1="645" y1="421.5" x2="645" y2="455" stroke="#cc0000" stroke-width="2.0"/>
<line x1="645" y1="464" x2="645" y2="495" stroke="#cc0000" stroke-width="2.0"/>
<line x1="655" y1="443" x2="660" y2="443" stroke="#cc0000" stroke-width="2.0"/>
<line x1="669" y1="443" x2="675" y2="443" stroke="#cc0000" stroke-width="2.0"/>
<line x1="674" y1="434" x2="680" y2="434" stroke="#cc0000" stroke-width="2.0"/>
<line x1="689" y1="434" x2="694" y2="434" stroke="#cc0000" stroke-width="2.0"/>
<line x1="693" y1="449" x2="699" y2="449" stroke="#cc0000" stroke-width="2.0"/>
<line x1="708" y1="449" x2="713" y2="449" stroke="#cc0000" stroke-width="2.0"/>
<line x1="731" y1="430" x2="737" y2="430" stroke="#cc0000" stroke-width="2.0"/>
<line x1="746" y1="430" x2="752" y2="430" stroke="#cc0000" stroke-width="2.0"/>
<line x1="751" y1="438" x2="756" y2="438" stroke="#cc0000" stroke-width="2.0"/>
<line x1="765" y1="438" x2="771" y2="438" stroke="#cc0000" stroke-width="2.0"/>
<line x1="808" y1="442" x2="814" y2="442" stroke="#cc0000" stroke-width="2.0"/>
<line x1="823" y1="442" x2="828" y2="442" stroke="#cc0000" stroke-width="2.0"/>
<line x1="827" y1="446" x2="833" y2="446" stroke="#cc0000" stroke-width="2.0"/>
<line x1="842" y1="446" x2="847" y2="446" stroke="#cc0000" stroke-width="2.0"/>
<line x1="846" y1="432" x2="852" y2="432" stroke="#cc0000" stroke-width="2.0"/>
<line x1="861" y1="432" x2="866" y2="432" stroke="#cc0000" stroke-width="2.0"/>
</g>
<circle cx="224.5" cy="416.5" r="4.45" fill="#000"/>
<circle cx="282.5" cy="467.5" r="4.45" fill="#000"/>
<circle cx="301.5" cy="416.5" r="4.45" fill="#000"/>
<circle cx="320.5" cy="442.5" r="4.45" fill="#000"/>
<circle cx="339.5" cy="487.5" r="4.45" fill="#000"/>
<circle cx="358.5" cy="475.5" r="4.45" fill="#000"/>
<circle cx="377.5" cy="416.5" r="4.45" fill="#000"/>
<circle cx="416.5" cy="475.5" r="4.45" fill="#000"/>
<circle cx="435.5" cy="446.5" r="4.45" fill="#000"/>
<circle cx="454.5" cy="452.5" r="4.45" fill="#000"/>
<circle cx="473.5" cy="467.5" r="4.45" fill="#000"/>
<circle cx="492.5" cy="452.5" r="4.45" fill="#000"/>
<circle cx="511.5" cy="431.5" r="4.45" fill="#000"/>
<circle cx="531.5" cy="443.5" r="4.45" fill="#000"/>
<circle cx="550.5" cy="437.5" r="4.45" fill="#000"/>
<circle cx="569.5" cy="446.5" r="4.45" fill="#000"/>
<circle cx="588.5" cy="430.5" r="4.45" fill="#000"/>
<circle cx="607.5" cy="431.5" r="4.45" fill="#000"/>
<circle cx="626.5" cy="422.5" r="4.45" fill="#000"/>
<circle cx="645.5" cy="459.5" r="4.45" fill="#000"/>
<circle cx="664.5" cy="443.5" r="4.45" fill="#000"/>
<circle cx="684.5" cy="434.5" r="4.45" fill="#000"/>
<circle cx="703.5" cy="449.5" r="4.45" fill="#000"/>
<circle cx="722.5" cy="416.5" r="4.45" fill="#000"/>
<circle cx="741.5" cy="430.5" r="4.45" fill="#000"/>
<circle cx="760.5" cy="438.5" r="4.45" fill="#000"/>
<circle cx="779.5" cy="416.5" r="4.45" fill="#000"/>
<circle cx="798.5" cy="416.5" r="4.45" fill="#000"/>
<circle cx="818.5" cy="442.5" r="4.45" fill="#000"/>
<circle cx="837.5" cy="446.5" r="4.45" fill="#000"/>
<circle cx="856.5" cy="432.5" r="4.45" fill="#000"/>
<circle cx="875.5" cy="416.5" r="4.45" fill="#000"/>
<circle cx="894.5" cy="416.5" r="4.45" fill="#000"/>
<circle cx="913.5" cy="416.5" r="4.45" fill="#000"/>
<g clip-path="url(#clip2)" shape-rendering="crispEdges">
<line x1="272" y1="517" x2="277" y2="517" stroke="#6600cc" stroke-width="2.0"/>
<line x1="287" y1="517" x2="292" y2="517" stroke="#6600cc" stroke-width="2.0"/>
<line x1="291" y1="467" x2="296" y2="467" stroke="#6600cc" stroke-width="2.0"/>
<line x1="306" y1="467" x2="311" y2="467" stroke="#6600cc" stroke-width="2.0"/>
<line x1="310" y1="467" x2="315" y2="467" stroke="#6600cc" stroke-width="2.0"/>
<line x1="325" y1="467" x2="331" y2="467" stroke="#6600cc" stroke-width="2.0"/>
<line x1="330" y1="487" x2="334" y2="487" stroke="#6600cc" stroke-width="2.0"/>
<line x1="344" y1="487" x2="350" y2="487" stroke="#6600cc" stroke-width="2.0"/>
<line x1="349" y1="475" x2="353" y2="475" stroke="#6600cc" stroke-width="2.0"/>
<line x1="363" y1="475" x2="369" y2="475" stroke="#6600cc" stroke-width="2.0"/>
<line x1="368" y1="460" x2="372" y2="460" stroke="#6600cc" stroke-width="2.0"/>
<line x1="382" y1="460" x2="388" y2="460" stroke="#6600cc" stroke-width="2.0"/>
<line x1="406" y1="475" x2="411" y2="475" stroke="#6600cc" stroke-width="2.0"/>
<line x1="421" y1="475" x2="426" y2="475" stroke="#6600cc" stroke-width="2.0"/>
<line x1="425" y1="490" x2="430" y2="490" stroke="#6600cc" stroke-width="2.0"/>
<line x1="440" y1="490" x2="445" y2="490" stroke="#6600cc" stroke-width="2.0"/>
<line x1="444" y1="452" x2="449" y2="452" stroke="#6600cc" stroke-width="2.0"/>
<line x1="459" y1="452" x2="465" y2="452" stroke="#6600cc" stroke-width="2.0"/>
<line x1="464" y1="492" x2="468" y2="492" stroke="#6600cc" stroke-width="2.0"/>
<line x1="478" y1="492" x2="484" y2="492" stroke="#6600cc" stroke-width="2.0"/>
<line x1="483" y1="475" x2="487" y2="475" stroke="#6600cc" stroke-width="2.0"/>
<line x1="497" y1="475" x2="503" y2="475" stroke="#6600cc" stroke-width="2.0"/>
<line x1="502" y1="431" x2="506" y2="431" stroke="#6600cc" stroke-width="2.0"/>
<line x1="516" y1="431" x2="522" y2="431" stroke="#6600cc" stroke-width="2.0"/>
<line x1="521" y1="452" x2="526" y2="452" stroke="#6600cc" stroke-width="2.0"/>
<line x1="536" y1="452" x2="541" y2="452" stroke="#6600cc" stroke-width="2.0"/>
<line x1="540" y1="450" x2="545" y2="450" stroke="#6600cc" stroke-width="2.0"/>
<line x1="555" y1="450" x2="560" y2="450" stroke="#6600cc" stroke-width="2.0"/>
<line x1="559" y1="458" x2="564" y2="458" stroke="#6600cc" stroke-width="2.0"/>
<line x1="574" y1="458" x2="579" y2="458" stroke="#6600cc" stroke-width="2.0"/>
<line x1="569" y1="430" x2="569" y2="453" stroke="#6600cc" stroke-width="2.0"/>
<line x1="569" y1="463" x2="569" y2="495.4" stroke="#6600cc" stroke-width="2.0"/>
<line x1="578" y1="471" x2="583" y2="471" stroke="#6600cc" stroke-width="2.0"/>
<line x1="593" y1="471" x2="599" y2="471" stroke="#6600cc" stroke-width="2.0"/>
<line x1="588" y1="461.7" x2="588" y2="466" stroke="#6600cc" stroke-width="2.0"/>
<line x1="588" y1="476" x2="588" y2="480.9" stroke="#6600cc" stroke-width="2.0"/>
<line x1="598" y1="450" x2="602" y2="450" stroke="#6600cc" stroke-width="2.0"/>
<line x1="612" y1="450" x2="618" y2="450" stroke="#6600cc" stroke-width="2.0"/>
<line x1="607" y1="430" x2="607" y2="445" stroke="#6600cc" stroke-width="2.0"/>
<line x1="607" y1="455" x2="607" y2="474.2" stroke="#6600cc" stroke-width="2.0"/>
<line x1="617" y1="441" x2="621" y2="441" stroke="#6600cc" stroke-width="2.0"/>
<line x1="631" y1="441" x2="637" y2="441" stroke="#6600cc" stroke-width="2.0"/>
<line x1="636" y1="464" x2="640" y2="464" stroke="#6600cc" stroke-width="2.0"/>
<line x1="650" y1="464" x2="656" y2="464" stroke="#6600cc" stroke-width="2.0"/>
<line x1="645" y1="424.9" x2="645" y2="459" stroke="#6600cc" stroke-width="2.0"/>
<line x1="645" y1="469" x2="645" y2="500" stroke="#6600cc" stroke-width="2.0"/>
<line x1="655" y1="465" x2="659" y2="465" stroke="#6600cc" stroke-width="2.0"/>
<line x1="669" y1="465" x2="675" y2="465" stroke="#6600cc" stroke-width="2.0"/>
<line x1="664" y1="420" x2="664" y2="460" stroke="#6600cc" stroke-width="2.0"/>
<line x1="664" y1="470" x2="664" y2="513.5" stroke="#6600cc" stroke-width="2.0"/>
<line x1="674" y1="434" x2="679" y2="434" stroke="#6600cc" stroke-width="2.0"/>
<line x1="689" y1="434" x2="694" y2="434" stroke="#6600cc" stroke-width="2.0"/>
<line x1="693" y1="472" x2="698" y2="472" stroke="#6600cc" stroke-width="2.0"/>
<line x1="708" y1="472" x2="713" y2="472" stroke="#6600cc" stroke-width="2.0"/>
<line x1="731" y1="475" x2="736" y2="475" stroke="#6600cc" stroke-width="2.0"/>
<line x1="746" y1="475" x2="752" y2="475" stroke="#6600cc" stroke-width="2.0"/>
<line x1="751" y1="460" x2="755" y2="460" stroke="#6600cc" stroke-width="2.0"/>
<line x1="765" y1="460" x2="771" y2="460" stroke="#6600cc" stroke-width="2.0"/>
<line x1="808" y1="442" x2="813" y2="442" stroke="#6600cc" stroke-width="2.0"/>
<line x1="823" y1="442" x2="828" y2="442" stroke="#6600cc" stroke-width="2.0"/>
<line x1="827" y1="446" x2="832" y2="446" stroke="#6600cc" stroke-width="2.0"/>
<line x1="842" y1="446" x2="847" y2="446" stroke="#6600cc" stroke-width="2.0"/>
<line x1="846" y1="448" x2="851" y2="448" stroke="#6600cc" stroke-width="2.0"/>
<line x1="861" y1="448" x2="866" y2="448" stroke="#6600cc" stroke-width="2.0"/>
<line x1="856" y1="416" x2="856" y2="443" stroke="#6600cc" stroke-width="2.0"/>
<line x1="856" y1="453" x2="856" y2="541.5" stroke="#6600cc" stroke-width="2.0"/>
<line x1="885" y1="460" x2="889" y2="460" stroke="#6600cc" stroke-width="2.0"/>
<line x1="899" y1="460" x2="905" y2="460" stroke="#6600cc" stroke-width="2.0"/>
<line x1="913" y1="421" x2="913" y2="541.5" stroke="#6600cc" stroke-width="2.0"/>
</g>
<rect x="219.5" y="411.5" width="9" height="9" fill="none" stroke="#000" stroke-width="1"/>
<rect x="277.5" y="512.5" width="9" height="9" fill="none" stroke="#000" stroke-width="1"/>
<rect x="296.5" y="462.5" width="9" height="9" fill="none" stroke="#000" stroke-width="1"/>
<rect x="315.5" y="462.5" width="9" height="9" fill="none" stroke="#000" stroke-width="1"/>
<rect x="334.5" y="482.5" width="9" height="9" fill="none" stroke="#000" stroke-width="1"/>
<rect x="353.5" y="470.5" width="9" height="9" fill="none" stroke="#000" stroke-width="1"/>
<rect x="372.5" y="455.5" width="9" height="9" fill="none" stroke="#000" stroke-width="1"/>
<rect x="411.5" y="470.5" width="9" height="9" fill="none" stroke="#000" stroke-width="1"/>
<rect x="430.5" y="485.5" width="9" height="9" fill="none" stroke="#000" stroke-width="1"/>
<rect x="449.5" y="447.5" width="9" height="9" fill="none" stroke="#000" stroke-width="1"/>
<rect x="468.5" y="487.5" width="9" height="9" fill="none" stroke="#000" stroke-width="1"/>
<rect x="487.5" y="470.5" width="9" height="9" fill="none" stroke="#000" stroke-width="1"/>
<rect x="506.5" y="426.5" width="9" height="9" fill="none" stroke="#000" stroke-width="1"/>
<rect x="526.5" y="447.5" width="9" height="9" fill="none" stroke="#000" stroke-width="1"/>
<rect x="545.5" y="445.5" width="9" height="9" fill="none" stroke="#000" stroke-width="1"/>
<rect x="564.5" y="453.5" width="9" height="9" fill="none" stroke="#000" stroke-width="1"/>
<rect x="583.5" y="466.5" width="9" height="9" fill="none" stroke="#000" stroke-width="1"/>
<rect x="602.5" y="445.5" width="9" height="9" fill="none" stroke="#000" stroke-width="1"/>
<rect x="621.5" y="436.5" width="9" height="9" fill="none" stroke="#000" stroke-width="1"/>
<rect x="640.5" y="459.5" width="9" height="9" fill="none" stroke="#000" stroke-width="1"/>
<rect x="659.5" y="460.5" width="9" height="9" fill="none" stroke="#000" stroke-width="1"/>
<rect x="679.5" y="429.5" width="9" height="9" fill="none" stroke="#000" stroke-width="1"/>
<rect x="698.5" y="467.5" width="9" height="9" fill="none" stroke="#000" stroke-width="1"/>
<rect x="717.5" y="411.5" width="9" height="9" fill="none" stroke="#000" stroke-width="1"/>
<rect x="736.5" y="470.5" width="9" height="9" fill="none" stroke="#000" stroke-width="1"/>
<rect x="755.5" y="455.5" width="9" height="9" fill="none" stroke="#000" stroke-width="1"/>
<rect x="774.5" y="411.5" width="9" height="9" fill="none" stroke="#000" stroke-width="1"/>
<rect x="793.5" y="411.5" width="9" height="9" fill="none" stroke="#000" stroke-width="1"/>
<rect x="813.5" y="437.5" width="9" height="9" fill="none" stroke="#000" stroke-width="1"/>
<rect x="832.5" y="441.5" width="9" height="9" fill="none" stroke="#000" stroke-width="1"/>
<rect x="851.5" y="443.5" width="9" height="9" fill="none" stroke="#000" stroke-width="1"/>
<rect x="870.5" y="411.5" width="9" height="9" fill="none" stroke="#000" stroke-width="1"/>
<rect x="889.5" y="455.5" width="9" height="9" fill="none" stroke="#000" stroke-width="1"/>
<rect x="908.5" y="411.5" width="9" height="9" fill="none" stroke="#000" stroke-width="1"/>
<g clip-path="url(#clip2)" shape-rendering="crispEdges">
<line x1="224" y1="420" x2="224" y2="541.5" stroke="#33ccff" stroke-width="2.0"/>
<line x1="272" y1="517" x2="278" y2="517" stroke="#33ccff" stroke-width="2.0"/>
<line x1="286" y1="517" x2="292" y2="517" stroke="#33ccff" stroke-width="2.0"/>
<line x1="282" y1="445" x2="282" y2="513" stroke="#33ccff" stroke-width="2.0"/>
<line x1="282" y1="521" x2="282" y2="541.5" stroke="#33ccff" stroke-width="2.0"/>
<line x1="291" y1="467" x2="297" y2="467" stroke="#33ccff" stroke-width="2.0"/>
<line x1="305" y1="467" x2="311" y2="467" stroke="#33ccff" stroke-width="2.0"/>
<line x1="301" y1="416" x2="301" y2="463" stroke="#33ccff" stroke-width="2.0"/>
<line x1="301" y1="471" x2="301" y2="541.5" stroke="#33ccff" stroke-width="2.0"/>
<line x1="310" y1="467" x2="316" y2="467" stroke="#33ccff" stroke-width="2.0"/>
<line x1="324" y1="467" x2="331" y2="467" stroke="#33ccff" stroke-width="2.0"/>
<line x1="320" y1="416" x2="320" y2="463" stroke="#33ccff" stroke-width="2.0"/>
<line x1="320" y1="471" x2="320" y2="541.5" stroke="#33ccff" stroke-width="2.0"/>
<line x1="330" y1="487" x2="335" y2="487" stroke="#33ccff" stroke-width="2.0"/>
<line x1="343" y1="487" x2="350" y2="487" stroke="#33ccff" stroke-width="2.0"/>
<line x1="339" y1="416" x2="339" y2="483" stroke="#33ccff" stroke-width="2.0"/>
<line x1="339" y1="491" x2="339" y2="541.5" stroke="#33ccff" stroke-width="2.0"/>
<line x1="349" y1="475" x2="354" y2="475" stroke="#33ccff" stroke-width="2.0"/>
<line x1="362" y1="475" x2="369" y2="475" stroke="#33ccff" stroke-width="2.0"/>
<line x1="358" y1="416" x2="358" y2="471" stroke="#33ccff" stroke-width="2.0"/>
<line x1="358" y1="479" x2="358" y2="541.5" stroke="#33ccff" stroke-width="2.0"/>
<line x1="377" y1="420" x2="377" y2="541.5" stroke="#33ccff" stroke-width="2.0"/>
<line x1="406" y1="475" x2="412" y2="475" stroke="#33ccff" stroke-width="2.0"/>
<line x1="420" y1="475" x2="426" y2="475" stroke="#33ccff" stroke-width="2.0"/>
<line x1="416" y1="416" x2="416" y2="471" stroke="#33ccff" stroke-width="2.0"/>
<line x1="416" y1="479" x2="416" y2="541.5" stroke="#33ccff" stroke-width="2.0"/>
<line x1="425" y1="460" x2="431" y2="460" stroke="#33ccff" stroke-width="2.0"/>
<line x1="439" y1="460" x2="445" y2="460" stroke="#33ccff" stroke-width="2.0"/>
<line x1="435" y1="416" x2="435" y2="456" stroke="#33ccff" stroke-width="2.0"/>
<line x1="435" y1="464" x2="435" y2="541.5" stroke="#33ccff" stroke-width="2.0"/>
<line x1="444" y1="452" x2="450" y2="452" stroke="#33ccff" stroke-width="2.0"/>
<line x1="458" y1="452" x2="465" y2="452" stroke="#33ccff" stroke-width="2.0"/>
<line x1="454" y1="416" x2="454" y2="448" stroke="#33ccff" stroke-width="2.0"/>
<line x1="454" y1="456" x2="454" y2="541.5" stroke="#33ccff" stroke-width="2.0"/>
<line x1="464" y1="492" x2="469" y2="492" stroke="#33ccff" stroke-width="2.0"/>
<line x1="477" y1="492" x2="484" y2="492" stroke="#33ccff" stroke-width="2.0"/>
<line x1="473" y1="416" x2="473" y2="488" stroke="#33ccff" stroke-width="2.0"/>
<line x1="473" y1="496" x2="473" y2="541.5" stroke="#33ccff" stroke-width="2.0"/>
<line x1="483" y1="463" x2="488" y2="463" stroke="#33ccff" stroke-width="2.0"/>
<line x1="496" y1="463" x2="503" y2="463" stroke="#33ccff" stroke-width="2.0"/>
<line x1="492" y1="416" x2="492" y2="459" stroke="#33ccff" stroke-width="2.0"/>
<line x1="492" y1="467" x2="492" y2="541.5" stroke="#33ccff" stroke-width="2.0"/>
<line x1="502" y1="446" x2="507" y2="446" stroke="#33ccff" stroke-width="2.0"/>
<line x1="515" y1="446" x2="522" y2="446" stroke="#33ccff" stroke-width="2.0"/>
<line x1="511" y1="416" x2="511" y2="442" stroke="#33ccff" stroke-width="2.0"/>
<line x1="511" y1="450" x2="511" y2="541.5" stroke="#33ccff" stroke-width="2.0"/>
<line x1="521" y1="469" x2="527" y2="469" stroke="#33ccff" stroke-width="2.0"/>
<line x1="535" y1="469" x2="541" y2="469" stroke="#33ccff" stroke-width="2.0"/>
<line x1="531" y1="416" x2="531" y2="465" stroke="#33ccff" stroke-width="2.0"/>
<line x1="531" y1="473" x2="531" y2="541.5" stroke="#33ccff" stroke-width="2.0"/>
<line x1="540" y1="450" x2="546" y2="450" stroke="#33ccff" stroke-width="2.0"/>
<line x1="554" y1="450" x2="560" y2="450" stroke="#33ccff" stroke-width="2.0"/>
<line x1="550" y1="416" x2="550" y2="446" stroke="#33ccff" stroke-width="2.0"/>
<line x1="550" y1="454" x2="550" y2="509.3" stroke="#33ccff" stroke-width="2.0"/>
<line x1="559" y1="455" x2="565" y2="455" stroke="#33ccff" stroke-width="2.0"/>
<line x1="573" y1="455" x2="579" y2="455" stroke="#33ccff" stroke-width="2.0"/>
<line x1="569" y1="417.7" x2="569" y2="451" stroke="#33ccff" stroke-width="2.0"/>
<line x1="569" y1="459" x2="569" y2="494.3" stroke="#33ccff" stroke-width="2.0"/>
<line x1="578" y1="445" x2="584" y2="445" stroke="#33ccff" stroke-width="2.0"/>
<line x1="592" y1="445" x2="599" y2="445" stroke="#33ccff" stroke-width="2.0"/>
<line x1="588" y1="432" x2="588" y2="441" stroke="#33ccff" stroke-width="2.0"/>
<line x1="588" y1="449" x2="588" y2="457.5" stroke="#33ccff" stroke-width="2.0"/>
<line x1="598" y1="446" x2="603" y2="446" stroke="#33ccff" stroke-width="2.0"/>
<line x1="611" y1="446" x2="618" y2="446" stroke="#33ccff" stroke-width="2.0"/>
<line x1="607" y1="420.7" x2="607" y2="442" stroke="#33ccff" stroke-width="2.0"/>
<line x1="607" y1="450" x2="607" y2="470" stroke="#33ccff" stroke-width="2.0"/>
<line x1="617" y1="441" x2="622" y2="441" stroke="#33ccff" stroke-width="2.0"/>
<line x1="630" y1="441" x2="637" y2="441" stroke="#33ccff" stroke-width="2.0"/>
<line x1="626" y1="416" x2="626" y2="437" stroke="#33ccff" stroke-width="2.0"/>
<line x1="626" y1="445" x2="626" y2="481.7" stroke="#33ccff" stroke-width="2.0"/>
<line x1="636" y1="467" x2="641" y2="467" stroke="#33ccff" stroke-width="2.0"/>
<line x1="649" y1="467" x2="656" y2="467" stroke="#33ccff" stroke-width="2.0"/>
<line x1="645" y1="429" x2="645" y2="463" stroke="#33ccff" stroke-width="2.0"/>
<line x1="645" y1="471" x2="645" y2="505.6" stroke="#33ccff" stroke-width="2.0"/>
<line x1="655" y1="448" x2="660" y2="448" stroke="#33ccff" stroke-width="2.0"/>
<line x1="668" y1="448" x2="675" y2="448" stroke="#33ccff" stroke-width="2.0"/>
<line x1="664" y1="416" x2="664" y2="444" stroke="#33ccff" stroke-width="2.0"/>
<line x1="664" y1="452" x2="664" y2="501.8" stroke="#33ccff" stroke-width="2.0"/>
<line x1="674" y1="434" x2="680" y2="434" stroke="#33ccff" stroke-width="2.0"/>
<line x1="688" y1="434" x2="694" y2="434" stroke="#33ccff" stroke-width="2.0"/>
<line x1="684" y1="416" x2="684" y2="430" stroke="#33ccff" stroke-width="2.0"/>
<line x1="684" y1="438" x2="684" y2="507.6" stroke="#33ccff" stroke-width="2.0"/>
<line x1="693" y1="460" x2="699" y2="460" stroke="#33ccff" stroke-width="2.0"/>
<line x1="707" y1="460" x2="713" y2="460" stroke="#33ccff" stroke-width="2.0"/>
<line x1="703" y1="416" x2="703" y2="456" stroke="#33ccff" stroke-width="2.0"/>
<line x1="703" y1="464" x2="703" y2="541.5" stroke="#33ccff" stroke-width="2.0"/>
<line x1="712" y1="442" x2="718" y2="442" stroke="#33ccff" stroke-width="2.0"/>
<line x1="726" y1="442" x2="732" y2="442" stroke="#33ccff" stroke-width="2.0"/>
<line x1="722" y1="416" x2="722" y2="438" stroke="#33ccff" stroke-width="2.0"/>
<line x1="722" y1="446" x2="722" y2="541.5" stroke="#33ccff" stroke-width="2.0"/>
<line x1="731" y1="446" x2="737" y2="446" stroke="#33ccff" stroke-width="2.0"/>
<line x1="745" y1="446" x2="752" y2="446" stroke="#33ccff" stroke-width="2.0"/>
<line x1="741" y1="416" x2="741" y2="442" stroke="#33ccff" stroke-width="2.0"/>
<line x1="741" y1="450" x2="741" y2="541.5" stroke="#33ccff" stroke-width="2.0"/>
<line x1="751" y1="483" x2="756" y2="483" stroke="#33ccff" stroke-width="2.0"/>
<line x1="764" y1="483" x2="771" y2="483" stroke="#33ccff" stroke-width="2.0"/>
<line x1="760" y1="416" x2="760" y2="479" stroke="#33ccff" stroke-width="2.0"/>
<line x1="760" y1="487" x2="760" y2="541.5" stroke="#33ccff" stroke-width="2.0"/>
<line x1="770" y1="446" x2="775" y2="446" stroke="#33ccff" stroke-width="2.0"/>
<line x1="783" y1="446" x2="790" y2="446" stroke="#33ccff" stroke-width="2.0"/>
<line x1="779" y1="416" x2="779" y2="442" stroke="#33ccff" stroke-width="2.0"/>
<line x1="779" y1="450" x2="779" y2="541.5" stroke="#33ccff" stroke-width="2.0"/>
<line x1="798" y1="420" x2="798" y2="541.5" stroke="#33ccff" stroke-width="2.0"/>
<line x1="808" y1="442" x2="814" y2="442" stroke="#33ccff" stroke-width="2.0"/>
<line x1="822" y1="442" x2="828" y2="442" stroke="#33ccff" stroke-width="2.0"/>
<line x1="818" y1="416" x2="818" y2="438" stroke="#33ccff" stroke-width="2.0"/>
<line x1="818" y1="446" x2="818" y2="541.5" stroke="#33ccff" stroke-width="2.0"/>
<line x1="827" y1="475" x2="833" y2="475" stroke="#33ccff" stroke-width="2.0"/>
<line x1="841" y1="475" x2="847" y2="475" stroke="#33ccff" stroke-width="2.0"/>
<line x1="837" y1="416" x2="837" y2="471" stroke="#33ccff" stroke-width="2.0"/>
<line x1="837" y1="479" x2="837" y2="541.5" stroke="#33ccff" stroke-width="2.0"/>
<line x1="846" y1="432" x2="852" y2="432" stroke="#33ccff" stroke-width="2.0"/>
<line x1="860" y1="432" x2="866" y2="432" stroke="#33ccff" stroke-width="2.0"/>
<line x1="856" y1="416" x2="856" y2="428" stroke="#33ccff" stroke-width="2.0"/>
<line x1="856" y1="436" x2="856" y2="532.7" stroke="#33ccff" stroke-width="2.0"/>
<line x1="875" y1="420" x2="875" y2="541.5" stroke="#33ccff" stroke-width="2.0"/>
<line x1="885" y1="438" x2="890" y2="438" stroke="#33ccff" stroke-width="2.0"/>
<line x1="898" y1="438" x2="905" y2="438" stroke="#33ccff" stroke-width="2.0"/>
<line x1="894" y1="416" x2="894" y2="434" stroke="#33ccff" stroke-width="2.0"/>
<line x1="894" y1="442" x2="894" y2="541.5" stroke="#33ccff" stroke-width="2.0"/>
</g>
<path d="M219.9 420L228.1 420L224 411.8Z" fill="#000"/>
<path d="M277.9 521L286.1 521L282 512.8Z" fill="#000"/>
<path d="M296.9 471L305.1 471L301 462.8Z" fill="#000"/>
<path d="M315.9 471L324.1 471L320 462.8Z" fill="#000"/>
<path d="M334.9 491L343.1 491L339 482.8Z" fill="#000"/>
<path d="M353.9 479L362.1 479L358 470.8Z" fill="#000"/>
<path d="M372.9 420L381.1 420L377 411.8Z" fill="#000"/>
<path d="M411.9 479L420.1 479L416 470.8Z" fill="#000"/>
<path d="M430.9 464L439.1 464L435 455.8Z" fill="#000"/>
<path d="M449.9 456L458.1 456L454 447.8Z" fill="#000"/>
<path d="M468.9 496L477.1 496L473 487.8Z" fill="#000"/>
<path d="M487.9 467L496.1 467L492 458.8Z" fill="#000"/>
<path d="M506.9 450L515.1 450L511 441.8Z" fill="#000"/>
<path d="M526.9 473L535.1 473L531 464.8Z" fill="#000"/>
<path d="M545.9 454L554.1 454L550 445.8Z" fill="#000"/>
<path d="M564.9 459L573.1 459L569 450.8Z" fill="#000"/>
<path d="M583.9 449L592.1 449L588 440.8Z" fill="#000"/>
<path d="M602.9 450L611.1 450L607 441.8Z" fill="#000"/>
<path d="M621.9 445L630.1 445L626 436.8Z" fill="#000"/>
<path d="M640.9 471L649.1 471L645 462.8Z" fill="#000"/>
<path d="M659.9 452L668.1 452L664 443.8Z" fill="#000"/>
<path d="M679.9 438L688.1 438L684 429.8Z" fill="#000"/>
<path d="M698.9 464L707.1 464L703 455.8Z" fill="#000"/>
<path d="M717.9 446L726.1 446L722 437.8Z" fill="#000"/>
<path d="M736.9 450L745.1 450L741 441.8Z" fill="#000"/>
<path d="M755.9 487L764.1 487L760 478.8Z" fill="#000"/>
<path d="M774.9 450L783.1 450L779 441.8Z" fill="#000"/>
<path d="M793.9 420L802.1 420L798 411.8Z" fill="#000"/>
<path d="M813.9 446L822.1 446L818 437.8Z" fill="#000"/>
<path d="M832.9 479L841.1 479L837 470.8Z" fill="#000"/>
<path d="M851.9 436L860.1 436L856 427.8Z" fill="#000"/>
<path d="M870.9 420L879.1 420L875 411.8Z" fill="#000"/>
<path d="M889.9 442L898.1 442L894 433.8Z" fill="#000"/>
<path d="M908.9 420L917.1 420L913 411.8Z" fill="#000"/>
<rect x="239.5" y="521.5" width="538" height="19.0" fill="#fff" stroke="#000" stroke-width="1" shape-rendering="crispEdges"/>
<circle cx="261.5" cy="530.5" r="4.45" fill="#000"/>
<text x="283.7" y="535" font-size="14.1" xml:space="preserve">Mean hit  eff: 0.90</text>
<rect x="417.5" y="525.5" width="9" height="9" fill="none" stroke="#000" stroke-width="1"/>
<text x="443.9" y="535" font-size="14.1">Mean in-band hit eff: 0.74</text>
<path d="M626.9 534L635.1 534L631 525.8Z" fill="#000"/>
<text x="652.3" y="535" font-size="14.1">Mean reco eff: 0.82</text>
<text x="1081.8" y="442.8" font-size="29" xml:space="preserve">L3</text>
<g shape-rendering="crispEdges">
<line x1="149.5" y1="573.5" x2="149.5" y2="690.5" stroke="#000" stroke-width="1" stroke-dasharray="1,2"/>
<line x1="149.5" y1="690.5" x2="149.5" y2="694.5" stroke="#000" stroke-width="1"/>
<line x1="179.5" y1="573.5" x2="179.5" y2="690.5" stroke="#000" stroke-width="1" stroke-dasharray="1,2"/>
<line x1="179.5" y1="690.5" x2="179.5" y2="694.5" stroke="#000" stroke-width="1"/>
<line x1="209.5" y1="573.5" x2="209.5" y2="690.5" stroke="#000" stroke-width="1" stroke-dasharray="1,2"/>
<line x1="209.5" y1="690.5" x2="209.5" y2="694.5" stroke="#000" stroke-width="1"/>
<line x1="239.5" y1="573.5" x2="239.5" y2="690.5" stroke="#000" stroke-width="1" stroke-dasharray="1,2"/>
<line x1="239.5" y1="690.5" x2="239.5" y2="694.5" stroke="#000" stroke-width="1"/>
<line x1="269.5" y1="573.5" x2="269.5" y2="690.5" stroke="#000" stroke-width="1" stroke-dasharray="1,2"/>
<line x1="269.5" y1="690.5" x2="269.5" y2="694.5" stroke="#000" stroke-width="1"/>
<line x1="299.5" y1="573.5" x2="299.5" y2="690.5" stroke="#000" stroke-width="1" stroke-dasharray="1,2"/>
<line x1="299.5" y1="690.5" x2="299.5" y2="694.5" stroke="#000" stroke-width="1"/>
<line x1="329.5" y1="573.5" x2="329.5" y2="690.5" stroke="#000" stroke-width="1" stroke-dasharray="1,2"/>
<line x1="329.5" y1="690.5" x2="329.5" y2="694.5" stroke="#000" stroke-width="1"/>
<line x1="358.5" y1="573.5" x2="358.5" y2="690.5" stroke="#000" stroke-width="1" stroke-dasharray="1,2"/>
<line x1="358.5" y1="690.5" x2="358.5" y2="694.5" stroke="#000" stroke-width="1"/>
<line x1="388.5" y1="573.5" x2="388.5" y2="690.5" stroke="#000" stroke-width="1" stroke-dasharray="1,2"/>
<line x1="388.5" y1="690.5" x2="388.5" y2="694.5" stroke="#000" stroke-width="1"/>
<line x1="418.5" y1="573.5" x2="418.5" y2="690.5" stroke="#000" stroke-width="1" stroke-dasharray="1,2"/>
<line x1="418.5" y1="690.5" x2="418.5" y2="694.5" stroke="#000" stroke-width="1"/>
<line x1="448.5" y1="573.5" x2="448.5" y2="690.5" stroke="#000" stroke-width="1" stroke-dasharray="1,2"/>
<line x1="448.5" y1="690.5" x2="448.5" y2="694.5" stroke="#000" stroke-width="1"/>
<line x1="478.5" y1="573.5" x2="478.5" y2="690.5" stroke="#000" stroke-width="1" stroke-dasharray="1,2"/>
<line x1="478.5" y1="690.5" x2="478.5" y2="694.5" stroke="#000" stroke-width="1"/>
<line x1="508.5" y1="573.5" x2="508.5" y2="690.5" stroke="#000" stroke-width="1" stroke-dasharray="1,2"/>
<line x1="508.5" y1="690.5" x2="508.5" y2="694.5" stroke="#000" stroke-width="1"/>
<line x1="538.5" y1="573.5" x2="538.5" y2="690.5" stroke="#000" stroke-width="1" stroke-dasharray="1,2"/>
<line x1="538.5" y1="690.5" x2="538.5" y2="694.5" stroke="#000" stroke-width="1"/>
<line x1="568.5" y1="573.5" x2="568.5" y2="690.5" stroke="#000" stroke-width="1" stroke-dasharray="1,2"/>
<line x1="568.5" y1="690.5" x2="568.5" y2="694.5" stroke="#000" stroke-width="1"/>
<line x1="598.5" y1="573.5" x2="598.5" y2="690.5" stroke="#000" stroke-width="1" stroke-dasharray="1,2"/>
<line x1="598.5" y1="690.5" x2="598.5" y2="694.5" stroke="#000" stroke-width="1"/>
<line x1="628.5" y1="573.5" x2="628.5" y2="690.5" stroke="#000" stroke-width="1" stroke-dasharray="1,2"/>
<line x1="628.5" y1="690.5" x2="628.5" y2="694.5" stroke="#000" stroke-width="1"/>
<line x1="658.5" y1="573.5" x2="658.5" y2="690.5" stroke="#000" stroke-width="1" stroke-dasharray="1,2"/>
<line x1="658.5" y1="690.5" x2="658.5" y2="694.5" stroke="#000" stroke-width="1"/>
<line x1="687.5" y1="573.5" x2="687.5" y2="690.5" stroke="#000" stroke-width="1" stroke-dasharray="1,2"/>
<line x1="687.5" y1="690.5" x2="687.5" y2="694.5" stroke="#000" stroke-width="1"/>
<line x1="717.5" y1="573.5" x2="717.5" y2="690.5" stroke="#000" stroke-width="1" stroke-dasharray="1,2"/>
<line x1="717.5" y1="690.5" x2="717.5" y2="694.5" stroke="#000" stroke-width="1"/>
<line x1="747.5" y1="573.5" x2="747.5" y2="690.5" stroke="#000" stroke-width="1" stroke-dasharray="1,2"/>
<line x1="747.5" y1="690.5" x2="747.5" y2="694.5" stroke="#000" stroke-width="1"/>
<line x1="777.5" y1="573.5" x2="777.5" y2="690.5" stroke="#000" stroke-width="1" stroke-dasharray="1,2"/>
<line x1="777.5" y1="690.5" x2="777.5" y2="694.5" stroke="#000" stroke-width="1"/>
<line x1="807.5" y1="573.5" x2="807.5" y2="690.5" stroke="#000" stroke-width="1" stroke-dasharray="1,2"/>
<line x1="807.5" y1="690.5" x2="807.5" y2="694.5" stroke="#000" stroke-width="1"/>
<line x1="837.5" y1="573.5" x2="837.5" y2="690.5" stroke="#000" stroke-width="1" stroke-dasharray="1,2"/>
<line x1="837.5" y1="690.5" x2="837.5" y2="694.5" stroke="#000" stroke-width="1"/>
<line x1="867.5" y1="573.5" x2="867.5" y2="690.5" stroke="#000" stroke-width="1" stroke-dasharray="1,2"/>
<line x1="867.5" y1="690.5" x2="867.5" y2="694.5" stroke="#000" stroke-width="1"/>
<line x1="897.5" y1="573.5" x2="897.5" y2="690.5" stroke="#000" stroke-width="1" stroke-dasharray="1,2"/>
<line x1="897.5" y1="690.5" x2="897.5" y2="694.5" stroke="#000" stroke-width="1"/>
<line x1="927.5" y1="573.5" x2="927.5" y2="690.5" stroke="#000" stroke-width="1" stroke-dasharray="1,2"/>
<line x1="927.5" y1="690.5" x2="927.5" y2="694.5" stroke="#000" stroke-width="1"/>
<line x1="957.5" y1="573.5" x2="957.5" y2="690.5" stroke="#000" stroke-width="1" stroke-dasharray="1,2"/>
<line x1="957.5" y1="690.5" x2="957.5" y2="694.5" stroke="#000" stroke-width="1"/>
<line x1="986.5" y1="573.5" x2="986.5" y2="690.5" stroke="#000" stroke-width="1" stroke-dasharray="1,2"/>
<line x1="986.5" y1="690.5" x2="986.5" y2="694.5" stroke="#000" stroke-width="1"/>
<line x1="1016.5" y1="573.5" x2="1016.5" y2="690.5" stroke="#000" stroke-width="1" stroke-dasharray="1,2"/>
<line x1="1016.5" y1="690.5" x2="1016.5" y2="694.5" stroke="#000" stroke-width="1"/>
<line x1="1046.5" y1="573.5" x2="1046.5" y2="690.5" stroke="#000" stroke-width="1" stroke-dasharray="1,2"/>
<line x1="1046.5" y1="690.5" x2="1046.5" y2="694.5" stroke="#000" stroke-width="1"/>
<line x1="151.5" y1="606.5" x2="1075.5" y2="606.5" stroke="#000" stroke-width="1" stroke-dasharray="1,2"/>
<line x1="119.5" y1="606.5" x2="149.5" y2="606.5" stroke="#000" stroke-width="1"/>
<line x1="151.5" y1="641.5" x2="1075.5" y2="641.5" stroke="#000" stroke-width="1" stroke-dasharray="1,2"/>
<line x1="119.5" y1="641.5" x2="149.5" y2="641.5" stroke="#000" stroke-width="1"/>
<line x1="151.5" y1="677.5" x2="1075.5" y2="677.5" stroke="#000" stroke-width="1" stroke-dasharray="1,2"/>
<line x1="119.5" y1="677.5" x2="149.5" y2="677.5" stroke="#000" stroke-width="1"/>
<rect x="119.5" y="571.5" width="957.0" height="123.0" fill="none" stroke="#000" stroke-width="1"/>
</g>
<path transform="translate(101.6,579.4) scale(0.010889,-0.010889)" d="M763 0h-180v1147q-65 -62 -170.5 -124t-189.5 -93v174q151 71 264 172t160 196h116v-1472z"/>
<text x="83" y="614.4" font-size="22.3" xml:space="preserve">0.8</text>
<text x="83" y="649.4" font-size="22.3" xml:space="preserve">0.6</text>
<text x="83" y="685.4" font-size="22.3" xml:space="preserve">0.4</text>
<clipPath id="clip3"><rect x="119.5" y="571.0" width="957.0" height="124.0"/></clipPath>
<g clip-path="url(#clip3)" shape-rendering="crispEdges">
<line x1="291" y1="596" x2="297" y2="596" stroke="#cc0000" stroke-width="2.0"/>
<line x1="306" y1="596" x2="311" y2="596" stroke="#cc0000" stroke-width="2.0"/>
<line x1="330" y1="588" x2="335" y2="588" stroke="#cc0000" stroke-width="2.0"/>
<line x1="344" y1="588" x2="350" y2="588" stroke="#cc0000" stroke-width="2.0"/>
<line x1="349" y1="630" x2="354" y2="630" stroke="#cc0000" stroke-width="2.0"/>
<line x1="363" y1="630" x2="369" y2="630" stroke="#cc0000" stroke-width="2.0"/>
<line x1="425" y1="585" x2="431" y2="585" stroke="#cc0000" stroke-width="2.0"/>
<line x1="440" y1="585" x2="445" y2="585" stroke="#cc0000" stroke-width="2.0"/>
<line x1="444" y1="606" x2="450" y2="606" stroke="#cc0000" stroke-width="2.0"/>
<line x1="459" y1="606" x2="465" y2="606" stroke="#cc0000" stroke-width="2.0"/>
<line x1="464" y1="596" x2="469" y2="596" stroke="#cc0000" stroke-width="2.0"/>
<line x1="478" y1="596" x2="484" y2="596" stroke="#cc0000" stroke-width="2.0"/>
<line x1="483" y1="606" x2="488" y2="606" stroke="#cc0000" stroke-width="2.0"/>
<line x1="497" y1="606" x2="503" y2="606" stroke="#cc0000" stroke-width="2.0"/>
<line x1="521" y1="597" x2="527" y2="597" stroke="#cc0000" stroke-width="2.0"/>
<line x1="536" y1="597" x2="541" y2="597" stroke="#cc0000" stroke-width="2.0"/>
<line x1="540" y1="578" x2="546" y2="578" stroke="#cc0000" stroke-width="2.0"/>
<line x1="555" y1="578" x2="560" y2="578" stroke="#cc0000" stroke-width="2.0"/>
<line x1="559" y1="594" x2="565" y2="594" stroke="#cc0000" stroke-width="2.0"/>
<line x1="574" y1="594" x2="579" y2="594" stroke="#cc0000" stroke-width="2.0"/>
<line x1="569" y1="571" x2="569" y2="590" stroke="#cc0000" stroke-width="2.0"/>
<line x1="569" y1="599" x2="569" y2="630" stroke="#cc0000" stroke-width="2.0"/>
<line x1="578" y1="587" x2="584" y2="587" stroke="#cc0000" stroke-width="2.0"/>
<line x1="593" y1="587" x2="599" y2="587" stroke="#cc0000" stroke-width="2.0"/>
<line x1="588" y1="575.5" x2="588" y2="583" stroke="#cc0000" stroke-width="2.0"/>
<line x1="588" y1="592" x2="588" y2="600" stroke="#cc0000" stroke-width="2.0"/>
<line x1="598" y1="589" x2="603" y2="589" stroke="#cc0000" stroke-width="2.0"/>
<line x1="612" y1="589" x2="618" y2="589" stroke="#cc0000" stroke-width="2.0"/>
<line x1="607" y1="571" x2="607" y2="585" stroke="#cc0000" stroke-width="2.0"/>
<line x1="607" y1="594" x2="607" y2="615" stroke="#cc0000" stroke-width="2.0"/>
<line x1="617" y1="579" x2="622" y2="579" stroke="#cc0000" stroke-width="2.0"/>
<line x1="631" y1="579" x2="637" y2="579" stroke="#cc0000" stroke-width="2.0"/>
<line x1="636" y1="590" x2="641" y2="590" stroke="#cc0000" stroke-width="2.0"/>
<line x1="650" y1="590" x2="656" y2="590" stroke="#cc0000" stroke-width="2.0"/>
<line x1="655" y1="598" x2="660" y2="598" stroke="#cc0000" stroke-width="2.0"/>
<line x1="669" y1="598" x2="675" y2="598" stroke="#cc0000" stroke-width="2.0"/>
<line x1="664" y1="571" x2="664" y2="594" stroke="#cc0000" stroke-width="2.0"/>
<line x1="664" y1="603" x2="664" y2="640" stroke="#cc0000" stroke-width="2.0"/>
<line x1="674" y1="587" x2="680" y2="587" stroke="#cc0000" stroke-width="2.0"/>
<line x1="689" y1="587" x2="694" y2="587" stroke="#cc0000" stroke-width="2.0"/>
<line x1="693" y1="603" x2="699" y2="603" stroke="#cc0000" stroke-width="2.0"/>
<line x1="708" y1="603" x2="713" y2="603" stroke="#cc0000" stroke-width="2.0"/>
<line x1="712" y1="621" x2="718" y2="621" stroke="#cc0000" stroke-width="2.0"/>
<line x1="727" y1="621" x2="732" y2="621" stroke="#cc0000" stroke-width="2.0"/>
<line x1="731" y1="615" x2="737" y2="615" stroke="#cc0000" stroke-width="2.0"/>
<line x1="746" y1="615" x2="752" y2="615" stroke="#cc0000" stroke-width="2.0"/>
<line x1="827" y1="600" x2="833" y2="600" stroke="#cc0000" stroke-width="2.0"/>
<line x1="842" y1="600" x2="847" y2="600" stroke="#cc0000" stroke-width="2.0"/>
<line x1="846" y1="603" x2="852" y2="603" stroke="#cc0000" stroke-width="2.0"/>
<line x1="861" y1="603" x2="866" y2="603" stroke="#cc0000" stroke-width="2.0"/>
<line x1="885" y1="593" x2="890" y2="593" stroke="#cc0000" stroke-width="2.0"/>
<line x1="899" y1="593" x2="905" y2="593" stroke="#cc0000" stroke-width="2.0"/>
</g>
<circle cx="224.5" cy="571.5" r="4.45" fill="#000"/>
<circle cx="282.5" cy="571.5" r="4.45" fill="#000"/>
<circle cx="301.5" cy="596.5" r="4.45" fill="#000"/>
<circle cx="320.5" cy="571.5" r="4.45" fill="#000"/>
<circle cx="339.5" cy="588.5" r="4.45" fill="#000"/>
<circle cx="358.5" cy="630.5" r="4.45" fill="#000"/>
<circle cx="377.5" cy="571.5" r="4.45" fill="#000"/>
<circle cx="416.5" cy="571.5" r="4.45" fill="#000"/>
<circle cx="435.5" cy="585.5" r="4.45" fill="#000"/>
<circle cx="454.5" cy="606.5" r="4.45" fill="#000"/>
<circle cx="473.5" cy="596.5" r="4.45" fill="#000"/>
<circle cx="492.5" cy="606.5" r="4.45" fill="#000"/>
<circle cx="511.5" cy="571.5" r="4.45" fill="#000"/>
<circle cx="531.5" cy="597.5" r="4.45" fill="#000"/>
<circle cx="550.5" cy="578.5" r="4.45" fill="#000"/>
<circle cx="569.5" cy="594.5" r="4.45" fill="#000"/>
<circle cx="588.5" cy="587.5" r="4.45" fill="#000"/>
<circle cx="607.5" cy="589.5" r="4.45" fill="#000"/>
<circle cx="626.5" cy="579.5" r="4.45" fill="#000"/>
<circle cx="645.5" cy="590.5" r="4.45" fill="#000"/>
<circle cx="664.5" cy="598.5" r="4.45" fill="#000"/>
<circle cx="684.5" cy="587.5" r="4.45" fill="#000"/>
<circle cx="703.5" cy="603.5" r="4.45" fill="#000"/>
<circle cx="722.5" cy="621.5" r="4.45" fill="#000"/>
<circle cx="741.5" cy="615.5" r="4.45" fill="#000"/>
<circle cx="760.5" cy="571.5" r="4.45" fill="#000"/>
<circle cx="779.5" cy="571.5" r="4.45" fill="#000"/>
<circle cx="798.5" cy="571.5" r="4.45" fill="#000"/>
<circle cx="818.5" cy="571.5" r="4.45" fill="#000"/>
<circle cx="837.5" cy="600.5" r="4.45" fill="#000"/>
<circle cx="856.5" cy="603.5" r="4.45" fill="#000"/>
<circle cx="875.5" cy="571.5" r="4.45" fill="#000"/>
<circle cx="894.5" cy="593.5" r="4.45" fill="#000"/>
<circle cx="913.5" cy="571.5" r="4.45" fill="#000"/>
<g clip-path="url(#clip3)" shape-rendering="crispEdges">
<line x1="272" y1="646" x2="277" y2="646" stroke="#6600cc" stroke-width="2.0"/>
<line x1="287" y1="646" x2="292" y2="646" stroke="#6600cc" stroke-width="2.0"/>
<line x1="291" y1="596" x2="296" y2="596" stroke="#6600cc" stroke-width="2.0"/>
<line x1="306" y1="596" x2="311" y2="596" stroke="#6600cc" stroke-width="2.0"/>
<line x1="330" y1="606" x2="334" y2="606" stroke="#6600cc" stroke-width="2.0"/>
<line x1="344" y1="606" x2="350" y2="606" stroke="#6600cc" stroke-width="2.0"/>
<line x1="349" y1="630" x2="353" y2="630" stroke="#6600cc" stroke-width="2.0"/>
<line x1="363" y1="630" x2="369" y2="630" stroke="#6600cc" stroke-width="2.0"/>
<line x1="406" y1="630" x2="411" y2="630" stroke="#6600cc" stroke-width="2.0"/>
<line x1="421" y1="630" x2="426" y2="630" stroke="#6600cc" stroke-width="2.0"/>
<line x1="425" y1="630" x2="430" y2="630" stroke="#6600cc" stroke-width="2.0"/>
<line x1="440" y1="630" x2="445" y2="630" stroke="#6600cc" stroke-width="2.0"/>
<line x1="444" y1="606" x2="449" y2="606" stroke="#6600cc" stroke-width="2.0"/>
<line x1="459" y1="606" x2="465" y2="606" stroke="#6600cc" stroke-width="2.0"/>
<line x1="464" y1="596" x2="468" y2="596" stroke="#6600cc" stroke-width="2.0"/>
<line x1="478" y1="596" x2="484" y2="596" stroke="#6600cc" stroke-width="2.0"/>
<line x1="483" y1="630" x2="487" y2="630" stroke="#6600cc" stroke-width="2.0"/>
<line x1="497" y1="630" x2="503" y2="630" stroke="#6600cc" stroke-width="2.0"/>
<line x1="502" y1="600" x2="506" y2="600" stroke="#6600cc" stroke-width="2.0"/>
<line x1="516" y1="600" x2="522" y2="600" stroke="#6600cc" stroke-width="2.0"/>
<line x1="521" y1="615" x2="526" y2="615" stroke="#6600cc" stroke-width="2.0"/>
<line x1="536" y1="615" x2="541" y2="615" stroke="#6600cc" stroke-width="2.0"/>
<line x1="531" y1="571" x2="531" y2="610" stroke="#6600cc" stroke-width="2.0"/>
<line x1="531" y1="620" x2="531" y2="660" stroke="#6600cc" stroke-width="2.0"/>
<line x1="540" y1="591" x2="545" y2="591" stroke="#6600cc" stroke-width="2.0"/>
<line x1="555" y1="591" x2="560" y2="591" stroke="#6600cc" stroke-width="2.0"/>
<line x1="559" y1="615" x2="564" y2="615" stroke="#6600cc" stroke-width="2.0"/>
<line x1="574" y1="615" x2="579" y2="615" stroke="#6600cc" stroke-width="2.0"/>
<line x1="569" y1="578" x2="569" y2="610" stroke="#6600cc" stroke-width="2.0"/>
<line x1="569" y1="620" x2="569" y2="655" stroke="#6600cc" stroke-width="2.0"/>
<line x1="578" y1="630" x2="583" y2="630" stroke="#6600cc" stroke-width="2.0"/>
<line x1="593" y1="630" x2="599" y2="630" stroke="#6600cc" stroke-width="2.0"/>
<line x1="588" y1="620.3" x2="588" y2="625" stroke="#6600cc" stroke-width="2.0"/>
<line x1="588" y1="635" x2="588" y2="641.1" stroke="#6600cc" stroke-width="2.0"/>
<line x1="598" y1="610" x2="602" y2="610" stroke="#6600cc" stroke-width="2.0"/>
<line x1="612" y1="610" x2="618" y2="610" stroke="#6600cc" stroke-width="2.0"/>
<line x1="607" y1="585" x2="607" y2="605" stroke="#6600cc" stroke-width="2.0"/>
<line x1="607" y1="615" x2="607" y2="634.9" stroke="#6600cc" stroke-width="2.0"/>
<line x1="617" y1="598" x2="621" y2="598" stroke="#6600cc" stroke-width="2.0"/>
<line x1="631" y1="598" x2="637" y2="598" stroke="#6600cc" stroke-width="2.0"/>
<line x1="636" y1="595" x2="640" y2="595" stroke="#6600cc" stroke-width="2.0"/>
<line x1="650" y1="595" x2="656" y2="595" stroke="#6600cc" stroke-width="2.0"/>
<line x1="655" y1="630" x2="659" y2="630" stroke="#6600cc" stroke-width="2.0"/>
<line x1="669" y1="630" x2="675" y2="630" stroke="#6600cc" stroke-width="2.0"/>
<line x1="664" y1="585" x2="664" y2="625" stroke="#6600cc" stroke-width="2.0"/>
<line x1="664" y1="635" x2="664" y2="695.5" stroke="#6600cc" stroke-width="2.0"/>
<line x1="674" y1="606" x2="679" y2="606" stroke="#6600cc" stroke-width="2.0"/>
<line x1="689" y1="606" x2="694" y2="606" stroke="#6600cc" stroke-width="2.0"/>
<line x1="693" y1="615" x2="698" y2="615" stroke="#6600cc" stroke-width="2.0"/>
<line x1="708" y1="615" x2="713" y2="615" stroke="#6600cc" stroke-width="2.0"/>
<line x1="712" y1="646" x2="717" y2="646" stroke="#6600cc" stroke-width="2.0"/>
<line x1="727" y1="646" x2="732" y2="646" stroke="#6600cc" stroke-width="2.0"/>
<line x1="722" y1="571" x2="722" y2="641" stroke="#6600cc" stroke-width="2.0"/>
<line x1="722" y1="651" x2="722" y2="690" stroke="#6600cc" stroke-width="2.0"/>
<line x1="731" y1="659" x2="736" y2="659" stroke="#6600cc" stroke-width="2.0"/>
<line x1="746" y1="659" x2="752" y2="659" stroke="#6600cc" stroke-width="2.0"/>
<line x1="751" y1="593" x2="755" y2="593" stroke="#6600cc" stroke-width="2.0"/>
<line x1="765" y1="593" x2="771" y2="593" stroke="#6600cc" stroke-width="2.0"/>
<line x1="770" y1="600" x2="774" y2="600" stroke="#6600cc" stroke-width="2.0"/>
<line x1="784" y1="600" x2="790" y2="600" stroke="#6600cc" stroke-width="2.0"/>
<line x1="808" y1="596" x2="813" y2="596" stroke="#6600cc" stroke-width="2.0"/>
<line x1="823" y1="596" x2="828" y2="596" stroke="#6600cc" stroke-width="2.0"/>
<line x1="827" y1="600" x2="832" y2="600" stroke="#6600cc" stroke-width="2.0"/>
<line x1="842" y1="600" x2="847" y2="600" stroke="#6600cc" stroke-width="2.0"/>
<line x1="846" y1="635" x2="851" y2="635" stroke="#6600cc" stroke-width="2.0"/>
<line x1="861" y1="635" x2="866" y2="635" stroke="#6600cc" stroke-width="2.0"/>
<line x1="856" y1="571" x2="856" y2="630" stroke="#6600cc" stroke-width="2.0"/>
<line x1="856" y1="640" x2="856" y2="680" stroke="#6600cc" stroke-width="2.0"/>
<line x1="885" y1="637" x2="889" y2="637" stroke="#6600cc" stroke-width="2.0"/>
<line x1="899" y1="637" x2="905" y2="637" stroke="#6600cc" stroke-width="2.0"/>
</g>
<rect x="219.5" y="566.5" width="9" height="9" fill="none" stroke="#000" stroke-width="1"/>
<rect x="277.5" y="641.5" width="9" height="9" fill="none" stroke="#000" stroke-width="1"/>
<rect x="296.5" y="591.5" width="9" height="9" fill="none" stroke="#000" stroke-width="1"/>
<rect x="315.5" y="566.5" width="9" height="9" fill="none" stroke="#000" stroke-width="1"/>
<rect x="334.5" y="601.5" width="9" height="9" fill="none" stroke="#000" stroke-width="1"/>
<rect x="353.5" y="625.5" width="9" height="9" fill="none" stroke="#000" stroke-width="1"/>
<rect x="372.5" y="566.5" width="9" height="9" fill="none" stroke="#000" stroke-width="1"/>
<rect x="411.5" y="625.5" width="9" height="9" fill="none" stroke="#000" stroke-width="1"/>
<rect x="430.5" y="625.5" width="9" height="9" fill="none" stroke="#000" stroke-width="1"/>
<rect x="449.5" y="601.5" width="9" height="9" fill="none" stroke="#000" stroke-width="1"/>
<rect x="468.5" y="591.5" width="9" height="9" fill="none" stroke="#000" stroke-width="1"/>
<rect x="487.5" y="625.5" width="9" height="9" fill="none" stroke="#000" stroke-width="1"/>
<rect x="506.5" y="595.5" width="9" height="9" fill="none" stroke="#000" stroke-width="1"/>
<rect x="526.5" y="610.5" width="9" height="9" fill="none" stroke="#000" stroke-width="1"/>
<rect x="545.5" y="586.5" width="9" height="9" fill="none" stroke="#000" stroke-width="1"/>
<rect x="564.5" y="610.5" width="9" height="9" fill="none" stroke="#000" stroke-width="1"/>
<rect x="583.5" y="625.5" width="9" height="9" fill="none" stroke="#000" stroke-width="1"/>
<rect x="602.5" y="605.5" width="9" height="9" fill="none" stroke="#000" stroke-width="1"/>
<rect x="621.5" y="593.5" width="9" height="9" fill="none" stroke="#000" stroke-width="1"/>
<rect x="640.5" y="590.5" width="9" height="9" fill="none" stroke="#000" stroke-width="1"/>
<rect x="659.5" y="625.5" width="9" height="9" fill="none" stroke="#000" stroke-width="1"/>
<rect x="679.5" y="601.5" width="9" height="9" fill="none" stroke="#000" stroke-width="1"/>
<rect x="698.5" y="610.5" width="9" height="9" fill="none" stroke="#000" stroke-width="1"/>
<rect x="717.5" y="641.5" width="9" height="9" fill="none" stroke="#000" stroke-width="1"/>
<rect x="736.5" y="654.5" width="9" height="9" fill="none" stroke="#000" stroke-width="1"/>
<rect x="755.5" y="588.5" width="9" height="9" fill="none" stroke="#000" stroke-width="1"/>
<rect x="774.5" y="595.5" width="9" height="9" fill="none" stroke="#000" stroke-width="1"/>
<rect x="793.5" y="566.5" width="9" height="9" fill="none" stroke="#000" stroke-width="1"/>
<rect x="813.5" y="591.5" width="9" height="9" fill="none" stroke="#000" stroke-width="1"/>
<rect x="832.5" y="595.5" width="9" height="9" fill="none" stroke="#000" stroke-width="1"/>
<rect x="851.5" y="630.5" width="9" height="9" fill="none" stroke="#000" stroke-width="1"/>
<rect x="870.5" y="566.5" width="9" height="9" fill="none" stroke="#000" stroke-width="1"/>
<rect x="889.5" y="632.5" width="9" height="9" fill="none" stroke="#000" stroke-width="1"/>
<rect x="908.5" y="566.5" width="9" height="9" fill="none" stroke="#000" stroke-width="1"/>
<g clip-path="url(#clip3)" shape-rendering="crispEdges">
<line x1="224" y1="575" x2="224" y2="695.5" stroke="#33ccff" stroke-width="2.0"/>
<line x1="282" y1="575" x2="282" y2="695.5" stroke="#33ccff" stroke-width="2.0"/>
<line x1="291" y1="596" x2="297" y2="596" stroke="#33ccff" stroke-width="2.0"/>
<line x1="305" y1="596" x2="311" y2="596" stroke="#33ccff" stroke-width="2.0"/>
<line x1="301" y1="571" x2="301" y2="592" stroke="#33ccff" stroke-width="2.0"/>
<line x1="301" y1="600" x2="301" y2="695.5" stroke="#33ccff" stroke-width="2.0"/>
<line x1="310" y1="596" x2="316" y2="596" stroke="#33ccff" stroke-width="2.0"/>
<line x1="324" y1="596" x2="331" y2="596" stroke="#33ccff" stroke-width="2.0"/>
<line x1="320" y1="571" x2="320" y2="592" stroke="#33ccff" stroke-width="2.0"/>
<line x1="320" y1="600" x2="320" y2="695.5" stroke="#33ccff" stroke-width="2.0"/>
<line x1="330" y1="588" x2="335" y2="588" stroke="#33ccff" stroke-width="2.0"/>
<line x1="343" y1="588" x2="350" y2="588" stroke="#33ccff" stroke-width="2.0"/>
<line x1="339" y1="571" x2="339" y2="584" stroke="#33ccff" stroke-width="2.0"/>
<line x1="339" y1="592" x2="339" y2="695.5" stroke="#33ccff" stroke-width="2.0"/>
<line x1="349" y1="630" x2="354" y2="630" stroke="#33ccff" stroke-width="2.0"/>
<line x1="362" y1="630" x2="369" y2="630" stroke="#33ccff" stroke-width="2.0"/>
<line x1="358" y1="571" x2="358" y2="626" stroke="#33ccff" stroke-width="2.0"/>
<line x1="358" y1="634" x2="358" y2="695.5" stroke="#33ccff" stroke-width="2.0"/>
<line x1="368" y1="615" x2="373" y2="615" stroke="#33ccff" stroke-width="2.0"/>
<line x1="381" y1="615" x2="388" y2="615" stroke="#33ccff" stroke-width="2.0"/>
<line x1="377" y1="571" x2="377" y2="611" stroke="#33ccff" stroke-width="2.0"/>
<line x1="377" y1="619" x2="377" y2="695.5" stroke="#33ccff" stroke-width="2.0"/>
<line x1="406" y1="630" x2="412" y2="630" stroke="#33ccff" stroke-width="2.0"/>
<line x1="420" y1="630" x2="426" y2="630" stroke="#33ccff" stroke-width="2.0"/>
<line x1="416" y1="571" x2="416" y2="626" stroke="#33ccff" stroke-width="2.0"/>
<line x1="416" y1="634" x2="416" y2="695.5" stroke="#33ccff" stroke-width="2.0"/>
<line x1="425" y1="585" x2="431" y2="585" stroke="#33ccff" stroke-width="2.0"/>
<line x1="439" y1="585" x2="445" y2="585" stroke="#33ccff" stroke-width="2.0"/>
<line x1="435" y1="571" x2="435" y2="581" stroke="#33ccff" stroke-width="2.0"/>
<line x1="435" y1="589" x2="435" y2="695.5" stroke="#33ccff" stroke-width="2.0"/>
<line x1="444" y1="606" x2="450" y2="606" stroke="#33ccff" stroke-width="2.0"/>
<line x1="458" y1="606" x2="465" y2="606" stroke="#33ccff" stroke-width="2.0"/>
<line x1="454" y1="571" x2="454" y2="602" stroke="#33ccff" stroke-width="2.0"/>
<line x1="454" y1="610" x2="454" y2="695.5" stroke="#33ccff" stroke-width="2.0"/>
<line x1="464" y1="621" x2="469" y2="621" stroke="#33ccff" stroke-width="2.0"/>
<line x1="477" y1="621" x2="484" y2="621" stroke="#33ccff" stroke-width="2.0"/>
<line x1="473" y1="571" x2="473" y2="617" stroke="#33ccff" stroke-width="2.0"/>
<line x1="473" y1="625" x2="473" y2="695.5" stroke="#33ccff" stroke-width="2.0"/>
<line x1="483" y1="630" x2="488" y2="630" stroke="#33ccff" stroke-width="2.0"/>
<line x1="496" y1="630" x2="503" y2="630" stroke="#33ccff" stroke-width="2.0"/>
<line x1="492" y1="571" x2="492" y2="626" stroke="#33ccff" stroke-width="2.0"/>
<line x1="492" y1="634" x2="492" y2="695.5" stroke="#33ccff" stroke-width="2.0"/>
<line x1="502" y1="585" x2="507" y2="585" stroke="#33ccff" stroke-width="2.0"/>
<line x1="515" y1="585" x2="522" y2="585" stroke="#33ccff" stroke-width="2.0"/>
<line x1="511" y1="571" x2="511" y2="581" stroke="#33ccff" stroke-width="2.0"/>
<line x1="511" y1="589" x2="511" y2="695.5" stroke="#33ccff" stroke-width="2.0"/>
<line x1="521" y1="633" x2="527" y2="633" stroke="#33ccff" stroke-width="2.0"/>
<line x1="535" y1="633" x2="541" y2="633" stroke="#33ccff" stroke-width="2.0"/>
<line x1="531" y1="575.5" x2="531" y2="629" stroke="#33ccff" stroke-width="2.0"/>
<line x1="531" y1="637" x2="531" y2="695.5" stroke="#33ccff" stroke-width="2.0"/>
<line x1="540" y1="598" x2="546" y2="598" stroke="#33ccff" stroke-width="2.0"/>
<line x1="554" y1="598" x2="560" y2="598" stroke="#33ccff" stroke-width="2.0"/>
<line x1="550" y1="571" x2="550" y2="594" stroke="#33ccff" stroke-width="2.0"/>
<line x1="550" y1="602" x2="550" y2="659.6" stroke="#33ccff" stroke-width="2.0"/>
<line x1="559" y1="627" x2="565" y2="627" stroke="#33ccff" stroke-width="2.0"/>
<line x1="573" y1="627" x2="579" y2="627" stroke="#33ccff" stroke-width="2.0"/>
<line x1="569" y1="592" x2="569" y2="623" stroke="#33ccff" stroke-width="2.0"/>
<line x1="569" y1="631" x2="569" y2="661.6" stroke="#33ccff" stroke-width="2.0"/>
<line x1="578" y1="602" x2="584" y2="602" stroke="#33ccff" stroke-width="2.0"/>
<line x1="592" y1="602" x2="599" y2="602" stroke="#33ccff" stroke-width="2.0"/>
<line x1="588" y1="590" x2="588" y2="598" stroke="#33ccff" stroke-width="2.0"/>
<line x1="588" y1="606" x2="588" y2="614.8" stroke="#33ccff" stroke-width="2.0"/>
<line x1="598" y1="604" x2="603" y2="604" stroke="#33ccff" stroke-width="2.0"/>
<line x1="611" y1="604" x2="618" y2="604" stroke="#33ccff" stroke-width="2.0"/>
<line x1="607" y1="578.9" x2="607" y2="600" stroke="#33ccff" stroke-width="2.0"/>
<line x1="607" y1="608" x2="607" y2="629.9" stroke="#33ccff" stroke-width="2.0"/>
<line x1="617" y1="601" x2="622" y2="601" stroke="#33ccff" stroke-width="2.0"/>
<line x1="630" y1="601" x2="637" y2="601" stroke="#33ccff" stroke-width="2.0"/>
<line x1="626" y1="571" x2="626" y2="597" stroke="#33ccff" stroke-width="2.0"/>
<line x1="626" y1="605" x2="626" y2="639.9" stroke="#33ccff" stroke-width="2.0"/>
<line x1="636" y1="605" x2="641" y2="605" stroke="#33ccff" stroke-width="2.0"/>
<line x1="649" y1="605" x2="656" y2="605" stroke="#33ccff" stroke-width="2.0"/>
<line x1="645" y1="571" x2="645" y2="601" stroke="#33ccff" stroke-width="2.0"/>
<line x1="645" y1="609" x2="645" y2="646.6" stroke="#33ccff" stroke-width="2.0"/>
<line x1="655" y1="624" x2="660" y2="624" stroke="#33ccff" stroke-width="2.0"/>
<line x1="668" y1="624" x2="675" y2="624" stroke="#33ccff" stroke-width="2.0"/>
<line x1="664" y1="577.2" x2="664" y2="620" stroke="#33ccff" stroke-width="2.0"/>
<line x1="664" y1="628" x2="664" y2="671.7" stroke="#33ccff" stroke-width="2.0"/>
<line x1="674" y1="615" x2="680" y2="615" stroke="#33ccff" stroke-width="2.0"/>
<line x1="688" y1="615" x2="694" y2="615" stroke="#33ccff" stroke-width="2.0"/>
<line x1="684" y1="571" x2="684" y2="611" stroke="#33ccff" stroke-width="2.0"/>
<line x1="684" y1="619" x2="684" y2="695.5" stroke="#33ccff" stroke-width="2.0"/>
<line x1="693" y1="615" x2="699" y2="615" stroke="#33ccff" stroke-width="2.0"/>
<line x1="707" y1="615" x2="713" y2="615" stroke="#33ccff" stroke-width="2.0"/>
<line x1="703" y1="571" x2="703" y2="611" stroke="#33ccff" stroke-width="2.0"/>
<line x1="703" y1="619" x2="703" y2="695.5" stroke="#33ccff" stroke-width="2.0"/>
<line x1="712" y1="672" x2="718" y2="672" stroke="#33ccff" stroke-width="2.0"/>
<line x1="726" y1="672" x2="732" y2="672" stroke="#33ccff" stroke-width="2.0"/>
<line x1="722" y1="598.9" x2="722" y2="668" stroke="#33ccff" stroke-width="2.0"/>
<line x1="722" y1="676" x2="722" y2="695.5" stroke="#33ccff" stroke-width="2.0"/>
<line x1="731" y1="615" x2="737" y2="615" stroke="#33ccff" stroke-width="2.0"/>
<line x1="745" y1="615" x2="752" y2="615" stroke="#33ccff" stroke-width="2.0"/>
<line x1="741" y1="571" x2="741" y2="611" stroke="#33ccff" stroke-width="2.0"/>
<line x1="741" y1="619" x2="741" y2="695.5" stroke="#33ccff" stroke-width="2.0"/>
<line x1="760" y1="575" x2="760" y2="695.5" stroke="#33ccff" stroke-width="2.0"/>
<line x1="779" y1="575" x2="779" y2="695.5" stroke="#33ccff" stroke-width="2.0"/>
<line x1="798" y1="575" x2="798" y2="695.5" stroke="#33ccff" stroke-width="2.0"/>
<line x1="808" y1="596" x2="814" y2="596" stroke="#33ccff" stroke-width="2.0"/>
<line x1="822" y1="596" x2="828" y2="596" stroke="#33ccff" stroke-width="2.0"/>
<line x1="818" y1="571" x2="818" y2="592" stroke="#33ccff" stroke-width="2.0"/>
<line x1="818" y1="600" x2="818" y2="695.5" stroke="#33ccff" stroke-width="2.0"/>
<line x1="827" y1="630" x2="833" y2="630" stroke="#33ccff" stroke-width="2.0"/>
<line x1="841" y1="630" x2="847" y2="630" stroke="#33ccff" stroke-width="2.0"/>
<line x1="837" y1="571" x2="837" y2="626" stroke="#33ccff" stroke-width="2.0"/>
<line x1="837" y1="634" x2="837" y2="695.5" stroke="#33ccff" stroke-width="2.0"/>
<line x1="846" y1="651" x2="852" y2="651" stroke="#33ccff" stroke-width="2.0"/>
<line x1="860" y1="651" x2="866" y2="651" stroke="#33ccff" stroke-width="2.0"/>
<line x1="856" y1="583.1" x2="856" y2="647" stroke="#33ccff" stroke-width="2.0"/>
<line x1="856" y1="655" x2="856" y2="695.5" stroke="#33ccff" stroke-width="2.0"/>
<line x1="875" y1="575" x2="875" y2="695.5" stroke="#33ccff" stroke-width="2.0"/>
<line x1="885" y1="637" x2="890" y2="637" stroke="#33ccff" stroke-width="2.0"/>
<line x1="898" y1="637" x2="905" y2="637" stroke="#33ccff" stroke-width="2.0"/>
<line x1="894" y1="571" x2="894" y2="633" stroke="#33ccff" stroke-width="2.0"/>
<line x1="894" y1="641" x2="894" y2="695.5" stroke="#33ccff" stroke-width="2.0"/>
<line x1="913" y1="575" x2="913" y2="695.5" stroke="#33ccff" stroke-width="2.0"/>
</g>
<path d="M219.9 575L228.1 575L224 566.8Z" fill="#000"/>
<path d="M277.9 575L286.1 575L282 566.8Z" fill="#000"/>
<path d="M296.9 600L305.1 600L301 591.8Z" fill="#000"/>
<path d="M315.9 600L324.1 600L320 591.8Z" fill="#000"/>
<path d="M334.9 592L343.1 592L339 583.8Z" fill="#000"/>
<path d="M353.9 634L362.1 634L358 625.8Z" fill="#000"/>
<path d="M372.9 619L381.1 619L377 610.8Z" fill="#000"/>
<path d="M411.9 634L420.1 634L416 625.8Z" fill="#000"/>
<path d="M430.9 589L439.1 589L435 580.8Z" fill="#000"/>
<path d="M449.9 610L458.1 610L454 601.8Z" fill="#000"/>
<path d="M468.9 625L477.1 625L473 616.8Z" fill="#000"/>
<path d="M487.9 634L496.1 634L492 625.8Z" fill="#000"/>
<path d="M506.9 589L515.1 589L511 580.8Z" fill="#000"/>
<path d="M526.9 637L535.1 637L531 628.8Z" fill="#000"/>
<path d="M545.9 602L554.1 602L550 593.8Z" fill="#000"/>
<path d="M564.9 631L573.1 631L569 622.8Z" fill="#000"/>
<path d="M583.9 606L592.1 606L588 597.8Z" fill="#000"/>
<path d="M602.9 608L611.1 608L607 599.8Z" fill="#000"/>
<path d="M621.9 605L630.1 605L626 596.8Z" fill="#000"/>
<path d="M640.9 609L649.1 609L645 600.8Z" fill="#000"/>
<path d="M659.9 628L668.1 628L664 619.8Z" fill="#000"/>
<path d="M679.9 619L688.1 619L684 610.8Z" fill="#000"/>
<path d="M698.9 619L707.1 619L703 610.8Z" fill="#000"/>
<path d="M717.9 676L726.1 676L722 667.8Z" fill="#000"/>
<path d="M736.9 619L745.1 619L741 610.8Z" fill="#000"/>
<path d="M755.9 575L764.1 575L760 566.8Z" fill="#000"/>
<path d="M774.9 575L783.1 575L779 566.8Z" fill="#000"/>
<path d="M793.9 575L802.1 575L798 566.8Z" fill="#000"/>
<path d="M813.9 600L822.1 600L818 591.8Z" fill="#000"/>
<path d="M832.9 634L841.1 634L837 625.8Z" fill="#000"/>
<path d="M851.9 655L860.1 655L856 646.8Z" fill="#000"/>
<path d="M870.9 575L879.1 575L875 566.8Z" fill="#000"/>
<path d="M889.9 641L898.1 641L894 632.8Z" fill="#000"/>
<path d="M908.9 575L917.1 575L913 566.8Z" fill="#000"/>
<rect x="239.5" y="676.5" width="538" height="18.0" fill="#fff" stroke="#000" stroke-width="1" shape-rendering="crispEdges"/>
<circle cx="261.5" cy="685.5" r="4.45" fill="#000"/>
<text x="283.7" y="690" font-size="14.1" xml:space="preserve">Mean hit  eff: 0.90</text>
<rect x="417.5" y="680.5" width="9" height="9" fill="none" stroke="#000" stroke-width="1"/>
<text x="443.9" y="690" font-size="14.1">Mean in-band hit eff: 0.72</text>
<path d="M626.9 689L635.1 689L631 680.8Z" fill="#000"/>
<text x="652.3" y="690" font-size="14.1">Mean reco eff: 0.80</text>
<text x="1081.8" y="597.8" font-size="29" xml:space="preserve">L4</text>
<text x="113.3" y="714.3" font-size="22.3" xml:space="preserve">0</text>
<text x="135.21" y="714.3" font-size="22.3" xml:space="preserve">0.</text>
<path transform="translate(153.8,714.3) scale(0.010889,-0.010889)" d="M763 0h-180v1147q-65 -62 -170.5 -124t-189.5 -93v174q151 71 264 172t160 196h116v-1472z"/>
<text x="165.11" y="714.3" font-size="22.3" xml:space="preserve">0.2</text>
<text x="195.02" y="714.3" font-size="22.3" xml:space="preserve">0.3</text>
<text x="224.92" y="714.3" font-size="22.3" xml:space="preserve">0.4</text>
<text x="254.83" y="714.3" font-size="22.3" xml:space="preserve">0.5</text>
<text x="284.74" y="714.3" font-size="22.3" xml:space="preserve">0.6</text>
<text x="314.64" y="714.3" font-size="22.3" xml:space="preserve">0.7</text>
<text x="344.55" y="714.3" font-size="22.3" xml:space="preserve">0.8</text>
<text x="374.46" y="714.3" font-size="22.3" xml:space="preserve">0.9</text>
<path transform="translate(412.36,714.3) scale(0.010889,-0.010889)" d="M763 0h-180v1147q-65 -62 -170.5 -124t-189.5 -93v174q151 71 264 172t160 196h116v-1472z"/>
<path transform="translate(434.27,714.3) scale(0.010889,-0.010889)" d="M763 0h-180v1147q-65 -62 -170.5 -124t-189.5 -93v174q151 71 264 172t160 196h116v-1472z"/>
<text x="446.67" y="714.3" font-size="22.3" xml:space="preserve">.</text>
<path transform="translate(452.87,714.3) scale(0.010889,-0.010889)" d="M763 0h-180v1147q-65 -62 -170.5 -124t-189.5 -93v174q151 71 264 172t160 196h116v-1472z"/>
<path transform="translate(464.17,714.3) scale(0.010889,-0.010889)" d="M763 0h-180v1147q-65 -62 -170.5 -124t-189.5 -93v174q151 71 264 172t160 196h116v-1472z"/>
<text x="476.58" y="714.3" font-size="22.3" xml:space="preserve">.2</text>
<path transform="translate(494.08,714.3) scale(0.010889,-0.010889)" d="M763 0h-180v1147q-65 -62 -170.5 -124t-189.5 -93v174q151 71 264 172t160 196h116v-1472z"/>
<text x="506.48" y="714.3" font-size="22.3" xml:space="preserve">.3</text>
<path transform="translate(523.99,714.3) scale(0.010889,-0.010889)" d="M763 0h-180v1147q-65 -62 -170.5 -124t-189.5 -93v174q151 71 264 172t160 196h116v-1472z"/>
<text x="536.39" y="714.3" font-size="22.3" xml:space="preserve">.4</text>
<path transform="translate(553.89,714.3) scale(0.010889,-0.010889)" d="M763 0h-180v1147q-65 -62 -170.5 -124t-189.5 -93v174q151 71 264 172t160 196h116v-1472z"/>
<text x="566.3" y="714.3" font-size="22.3" xml:space="preserve">.5</text>
<path transform="translate(583.8,714.3) scale(0.010889,-0.010889)" d="M763 0h-180v1147q-65 -62 -170.5 -124t-189.5 -93v174q151 71 264 172t160 196h116v-1472z"/>
<text x="596.2" y="714.3" font-size="22.3" xml:space="preserve">.6</text>
<path transform="translate(613.71,714.3) scale(0.010889,-0.010889)" d="M763 0h-180v1147q-65 -62 -170.5 -124t-189.5 -93v174q151 71 264 172t160 196h116v-1472z"/>
<text x="626.11" y="714.3" font-size="22.3" xml:space="preserve">.7</text>
<path transform="translate(643.61,714.3) scale(0.010889,-0.010889)" d="M763 0h-180v1147q-65 -62 -170.5 -124t-189.5 -93v174q151 71 264 172t160 196h116v-1472z"/>
<text x="656.01" y="714.3" font-size="22.3" xml:space="preserve">.8</text>
<path transform="translate(673.52,714.3) scale(0.010889,-0.010889)" d="M763 0h-180v1147q-65 -62 -170.5 -124t-189.5 -93v174q151 71 264 172t160 196h116v-1472z"/>
<text x="685.92" y="714.3" font-size="22.3" xml:space="preserve">.9</text>
<text x="711.42" y="714.3" font-size="22.3" xml:space="preserve">2</text>
<text x="733.33" y="714.3" font-size="22.3" xml:space="preserve">2.</text>
<path transform="translate(751.93,714.3) scale(0.010889,-0.010889)" d="M763 0h-180v1147q-65 -62 -170.5 -124t-189.5 -93v174q151 71 264 172t160 196h116v-1472z"/>
<text x="763.24" y="714.3" font-size="22.3" xml:space="preserve">2.2</text>
<text x="793.14" y="714.3" font-size="22.3" xml:space="preserve">2.3</text>
<text x="823.05" y="714.3" font-size="22.3" xml:space="preserve">2.4</text>
<text x="852.96" y="714.3" font-size="22.3" xml:space="preserve">2.5</text>
<text x="882.86" y="714.3" font-size="22.3" xml:space="preserve">2.6</text>
<text x="912.77" y="714.3" font-size="22.3" xml:space="preserve">2.7</text>
<text x="942.67" y="714.3" font-size="22.3" xml:space="preserve">2.8</text>
<text x="972.58" y="714.3" font-size="22.3" xml:space="preserve">2.9</text>
<text x="1010.49" y="714.3" font-size="22.3" xml:space="preserve">3</text>
<text x="1032.39" y="714.3" font-size="22.3" xml:space="preserve">3.</text>
<path transform="translate(1050.99,714.3) scale(0.010889,-0.010889)" d="M763 0h-180v1147q-65 -62 -170.5 -124t-189.5 -93v174q151 71 264 172t160 196h116v-1472z"/>
<text x="1062.3" y="714.3" font-size="22.3" xml:space="preserve">3.2</text>
<text x="863.5" y="737.3" font-size="21.8">Azimutal angle</text>
<text transform="translate(1014.2,737.3) scale(1.38,1)" font-size="15" stroke="#000" stroke-width="0.2">θ</text>
<text x="1076" y="737.3" font-size="21.8" text-anchor="end">(rad)</text>
</svg>
</body></html>
